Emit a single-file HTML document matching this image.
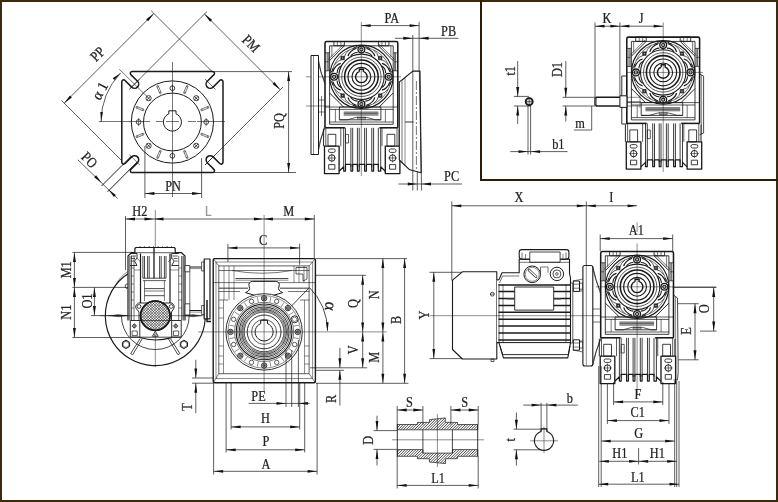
<!DOCTYPE html>
<html><head><meta charset="utf-8"><title>Worm gearbox dimensions</title>
<style>
html,body{margin:0;padding:0;background:#fff;}
body{width:778px;height:502px;overflow:hidden;position:relative;font-family:"Liberation Serif",serif;}
#frame{position:absolute;left:0;top:0;width:774px;height:498px;border:2px solid #3c2a0d;background:#fff;}
#inset{position:absolute;left:480px;top:0;width:298px;height:181px;border-left:2px solid #2c1c05;border-bottom:2px solid #2c1c05;box-sizing:border-box;}
svg{position:absolute;left:0;top:0;}
</style></head><body>
<div id="frame"></div><div id="inset"></div>
<svg style="filter:grayscale(1)" width="778" height="502" viewBox="0 0 778 502" fill="none" stroke="#1a1a1a" stroke-linecap="butt" stroke-linejoin="round">
<path d="M212.60,71.40 A1.9,1.9 0 0 1 213.95,74.65 L207.30,81.30 A4.1,4.1 0 0 0 213.10,87.10 L219.75,80.45 A1.9,1.9 0 0 1 223.00,81.80 L223.00,162.20 A1.9,1.9 0 0 1 219.75,163.55 L213.10,156.90 A4.1,4.1 0 0 0 207.30,162.70 L213.95,169.35 A1.9,1.9 0 0 1 212.60,172.60 L132.20,172.60 A1.9,1.9 0 0 1 130.85,169.35 L137.50,162.70 A4.1,4.1 0 0 0 131.70,156.90 L125.05,163.55 A1.9,1.9 0 0 1 121.80,162.20 L121.80,81.80 A1.9,1.9 0 0 1 125.05,80.45 L131.70,87.10 A4.1,4.1 0 0 0 137.50,81.30 L130.85,74.65 A1.9,1.9 0 0 1 132.20,71.40 Z" stroke-width="1.50" fill="none" />
<line x1="205.0" y1="79.0" x2="215.4" y2="89.4" stroke-width="0.60"/>
<line x1="215.4" y1="154.6" x2="205.0" y2="165.0" stroke-width="0.60"/>
<line x1="139.8" y1="165.0" x2="129.4" y2="154.6" stroke-width="0.60"/>
<line x1="129.4" y1="89.4" x2="139.8" y2="79.0" stroke-width="0.60"/>
<circle cx="172.4" cy="122.0" r="41.1" stroke-width="1.00" fill="none"/>
<circle cx="172.4" cy="122.0" r="28.9" stroke-width="1.00" fill="none"/>
<path d="M168.8,113.8 L168.8,110.8 L176.0,110.8 L176.0,113.8 A9.0,9.0 0 1 1 168.8,113.8" stroke-width="1.00" fill="none" />
<circle cx="206.2" cy="122.0" r="2.4" stroke-width="0.80" fill="none"/>
<line x1="206.2" y1="118.0" x2="206.2" y2="126.0" stroke-width="0.60"/>
<circle cx="196.2" cy="145.8" r="2.6" stroke-width="0.80" fill="none"/>
<line x1="194.3" y1="143.9" x2="198.1" y2="147.7" stroke-width="0.80"/>
<line x1="194.3" y1="147.7" x2="198.1" y2="143.9" stroke-width="0.80"/>
<circle cx="172.4" cy="155.8" r="2.4" stroke-width="0.80" fill="none"/>
<line x1="172.4" y1="151.8" x2="172.4" y2="159.8" stroke-width="0.60"/>
<circle cx="148.6" cy="145.8" r="2.6" stroke-width="0.80" fill="none"/>
<line x1="146.7" y1="143.9" x2="150.5" y2="147.7" stroke-width="0.80"/>
<line x1="146.7" y1="147.7" x2="150.5" y2="143.9" stroke-width="0.80"/>
<circle cx="138.6" cy="122.0" r="2.4" stroke-width="0.80" fill="none"/>
<line x1="138.6" y1="118.0" x2="138.6" y2="126.0" stroke-width="0.60"/>
<circle cx="148.6" cy="98.2" r="2.6" stroke-width="0.80" fill="none"/>
<line x1="146.7" y1="96.3" x2="150.5" y2="100.1" stroke-width="0.80"/>
<line x1="146.7" y1="100.1" x2="150.5" y2="96.3" stroke-width="0.80"/>
<circle cx="172.4" cy="88.2" r="2.4" stroke-width="0.80" fill="none"/>
<line x1="172.4" y1="84.2" x2="172.4" y2="92.2" stroke-width="0.60"/>
<circle cx="196.2" cy="98.2" r="2.6" stroke-width="0.80" fill="none"/>
<line x1="194.3" y1="96.3" x2="198.1" y2="100.1" stroke-width="0.80"/>
<line x1="194.3" y1="100.1" x2="198.1" y2="96.3" stroke-width="0.80"/>
<line x1="201.8" y1="133.3" x2="208.6" y2="136.1" stroke-width="0.60"/>
<line x1="201.2" y1="134.8" x2="207.9" y2="137.6" stroke-width="0.60"/>
<circle cx="208.2" cy="136.8" r="0.8" stroke-width="0.50" fill="none"/>
<circle cx="201.5" cy="134.1" r="0.8" stroke-width="0.50" fill="none"/>
<line x1="185.2" y1="150.8" x2="188.0" y2="157.5" stroke-width="0.60"/>
<line x1="183.7" y1="151.4" x2="186.5" y2="158.2" stroke-width="0.60"/>
<circle cx="187.2" cy="157.8" r="0.8" stroke-width="0.50" fill="none"/>
<circle cx="184.5" cy="151.1" r="0.8" stroke-width="0.50" fill="none"/>
<line x1="161.1" y1="151.4" x2="158.3" y2="158.2" stroke-width="0.60"/>
<line x1="159.6" y1="150.8" x2="156.8" y2="157.5" stroke-width="0.60"/>
<circle cx="157.6" cy="157.8" r="0.8" stroke-width="0.50" fill="none"/>
<circle cx="160.3" cy="151.1" r="0.8" stroke-width="0.50" fill="none"/>
<line x1="143.6" y1="134.8" x2="136.9" y2="137.6" stroke-width="0.60"/>
<line x1="143.0" y1="133.3" x2="136.2" y2="136.1" stroke-width="0.60"/>
<circle cx="136.6" cy="136.8" r="0.8" stroke-width="0.50" fill="none"/>
<circle cx="143.3" cy="134.1" r="0.8" stroke-width="0.50" fill="none"/>
<line x1="143.0" y1="110.7" x2="136.2" y2="107.9" stroke-width="0.60"/>
<line x1="143.6" y1="109.2" x2="136.9" y2="106.4" stroke-width="0.60"/>
<circle cx="136.6" cy="107.2" r="0.8" stroke-width="0.50" fill="none"/>
<circle cx="143.3" cy="109.9" r="0.8" stroke-width="0.50" fill="none"/>
<line x1="159.6" y1="93.2" x2="156.8" y2="86.5" stroke-width="0.60"/>
<line x1="161.1" y1="92.6" x2="158.3" y2="85.8" stroke-width="0.60"/>
<circle cx="157.6" cy="86.2" r="0.8" stroke-width="0.50" fill="none"/>
<circle cx="160.3" cy="92.9" r="0.8" stroke-width="0.50" fill="none"/>
<line x1="183.7" y1="92.6" x2="186.5" y2="85.8" stroke-width="0.60"/>
<line x1="185.2" y1="93.2" x2="188.0" y2="86.5" stroke-width="0.60"/>
<circle cx="187.2" cy="86.2" r="0.8" stroke-width="0.50" fill="none"/>
<circle cx="184.5" cy="92.9" r="0.8" stroke-width="0.50" fill="none"/>
<line x1="201.2" y1="109.2" x2="207.9" y2="106.4" stroke-width="0.60"/>
<line x1="201.8" y1="110.7" x2="208.6" y2="107.9" stroke-width="0.60"/>
<circle cx="208.2" cy="107.2" r="0.8" stroke-width="0.50" fill="none"/>
<circle cx="201.5" cy="109.9" r="0.8" stroke-width="0.50" fill="none"/>
<line x1="98.8" y1="121.5" x2="150.0" y2="121.5" stroke-width="0.60"/>
<line x1="156.0" y1="121.5" x2="163.0" y2="121.5" stroke-width="0.60"/>
<line x1="166.0" y1="121.5" x2="179.0" y2="121.5" stroke-width="0.60"/>
<line x1="188.0" y1="121.5" x2="196.0" y2="121.5" stroke-width="0.60"/>
<line x1="197.0" y1="121.5" x2="225.0" y2="121.5" stroke-width="0.60"/>
<line x1="172.5" y1="62.0" x2="172.5" y2="197.0" stroke-width="0.60"/>
<line x1="119.2" y1="69.1" x2="147.0" y2="96.5" stroke-width="0.60"/>
<path d="M101.1,122.0 A71.3,71.3 0 0 1 120.7,72.9" stroke-width="0.70" fill="none" />
<polygon points="101.1,121.5 100.3,111.9 102.9,112.1" fill="#111" stroke="none"/>
<polygon points="120.7,72.9 114.4,80.1 112.7,78.2" fill="#111" stroke="none"/>
<text transform="translate(99.7,90.7) rotate(-62) scale(0.95,1)" font-family="Liberation Serif" font-size="15" font-weight="normal" fill="#222" stroke="#222" stroke-width="0.25" text-anchor="middle" dominant-baseline="central">α 1</text>
<line x1="64.2" y1="103.2" x2="153.9" y2="13.5" stroke-width="0.70"/>
<polygon points="64.2,103.2 69.9,95.5 71.9,97.5" fill="#111" stroke="none"/>
<polygon points="153.9,13.5 148.2,21.2 146.2,19.2" fill="#111" stroke="none"/>
<line x1="61.5" y1="100.5" x2="121.8" y2="160.8" stroke-width="0.70"/>
<line x1="151.2" y1="10.8" x2="212.0" y2="71.5" stroke-width="0.70"/>
<text transform="translate(97.5,54.0) rotate(-45) scale(0.85,1)" font-family="Liberation Serif" font-size="14.5" font-weight="normal" fill="#222" stroke="#222" stroke-width="0.25" text-anchor="middle" dominant-baseline="central">PP</text>
<line x1="204.4" y1="14.0" x2="280.2" y2="89.8" stroke-width="0.70"/>
<polygon points="204.4,14.0 212.1,19.7 210.1,21.7" fill="#111" stroke="none"/>
<polygon points="280.2,89.8 272.5,84.1 274.5,82.1" fill="#111" stroke="none"/>
<line x1="207.0" y1="11.5" x2="129.4" y2="89.1" stroke-width="0.70"/>
<line x1="283.0" y1="87.0" x2="205.0" y2="165.0" stroke-width="0.70"/>
<text transform="translate(251.0,43.5) rotate(45) scale(0.85,1)" font-family="Liberation Serif" font-size="14.5" font-weight="normal" fill="#222" stroke="#222" stroke-width="0.25" text-anchor="middle" dominant-baseline="central">PM</text>
<line x1="212.0" y1="71.6" x2="292.0" y2="71.6" stroke-width="0.70"/>
<line x1="212.0" y1="172.5" x2="296.0" y2="172.5" stroke-width="0.70"/>
<line x1="288.6" y1="71.6" x2="288.6" y2="172.4" stroke-width="0.70"/>
<polygon points="288.6,71.6 290.1,81.1 287.2,81.1" fill="#111" stroke="none"/>
<polygon points="288.6,172.4 287.2,162.9 290.1,162.9" fill="#111" stroke="none"/>
<text transform="translate(279.0,121.0) rotate(-90) scale(0.85,1)" font-family="Liberation Serif" font-size="14.5" font-weight="normal" fill="#222" stroke="#222" stroke-width="0.25" text-anchor="middle" dominant-baseline="central">PQ</text>
<line x1="144.9" y1="146.0" x2="144.9" y2="198.0" stroke-width="0.70"/>
<line x1="201.6" y1="158.0" x2="201.6" y2="198.0" stroke-width="0.70"/>
<line x1="144.9" y1="193.5" x2="201.6" y2="193.5" stroke-width="0.70"/>
<polygon points="144.9,193.5 154.4,192.1 154.4,194.9" fill="#111" stroke="none"/>
<polygon points="201.6,193.5 192.1,194.9 192.1,192.1" fill="#111" stroke="none"/>
<text transform="translate(173.0,186.3) scale(0.85,1)" font-family="Liberation Serif" font-size="14.5" font-weight="normal" fill="#222" stroke="#222" stroke-width="0.25" text-anchor="middle" dominant-baseline="central">PN</text>
<line x1="77.9" y1="159.8" x2="117.7" y2="198.6" stroke-width="0.70"/>
<polygon points="101.8,183.0 94.1,177.3 96.1,175.3" fill="#111" stroke="none"/>
<polygon points="108.2,189.2 115.9,194.9 113.9,196.9" fill="#111" stroke="none"/>
<line x1="131.5" y1="156.0" x2="101.5" y2="186.0" stroke-width="1.00"/>
<line x1="137.4" y1="161.8" x2="107.6" y2="191.8" stroke-width="1.00"/>
<text transform="translate(89.5,160.0) rotate(45) scale(0.85,1)" font-family="Liberation Serif" font-size="14.5" font-weight="normal" fill="#222" stroke="#222" stroke-width="0.25" text-anchor="middle" dominant-baseline="central">PO</text>
<g transform="translate(361.4,76.8)">
<path d="M-36.4,51 L-36.4,-33.6 Q-36.4,-35.3 -34.7,-35.3 L34.7,-35.3 Q36.4,-35.3 36.4,-33.6 L36.4,51" stroke-width="1.56" fill="none" />
<line x1="-36.4" y1="51.0" x2="-16.5" y2="51.0" stroke-width="1.56"/>
<line x1="18.0" y1="51.0" x2="36.4" y2="51.0" stroke-width="1.56"/>
<path d="M-31.8,47.5 L-31.8,-31 L31.8,-31 L31.8,47.5" stroke-width="0.84" fill="none" />
<rect x="-27.5" y="-35.3" width="10.5" height="4.3" rx="0" stroke-width="0.84" fill="none"/>
<line x1="-20.5" y1="-35.3" x2="-20.5" y2="-31.0" stroke-width="0.60"/>
<line x1="-24.0" y1="-35.3" x2="-24.0" y2="-31.0" stroke-width="0.60"/>
<line x1="-34.2" y1="-24.0" x2="-34.2" y2="-6.0" stroke-width="0.72"/>
<line x1="-33.0" y1="-24.0" x2="-33.0" y2="-6.0" stroke-width="0.60"/>
<line x1="-36.4" y1="-24.0" x2="-31.8" y2="-24.0" stroke-width="0.72"/>
<line x1="-36.4" y1="-6.0" x2="-31.8" y2="-6.0" stroke-width="0.72"/>
<line x1="-36.4" y1="-15.0" x2="-33.0" y2="-15.0" stroke-width="0.60"/>
<line x1="-29.5" y1="-31.0" x2="-29.5" y2="-20.0" stroke-width="0.60"/>
<rect x="17.0" y="-35.3" width="10.5" height="4.3" rx="0" stroke-width="0.84" fill="none"/>
<line x1="20.5" y1="-35.3" x2="20.5" y2="-31.0" stroke-width="0.60"/>
<line x1="24.0" y1="-35.3" x2="24.0" y2="-31.0" stroke-width="0.60"/>
<line x1="34.2" y1="-24.0" x2="34.2" y2="-6.0" stroke-width="0.72"/>
<line x1="33.0" y1="-24.0" x2="33.0" y2="-6.0" stroke-width="0.60"/>
<line x1="36.4" y1="-24.0" x2="31.8" y2="-24.0" stroke-width="0.72"/>
<line x1="36.4" y1="-6.0" x2="31.8" y2="-6.0" stroke-width="0.72"/>
<line x1="36.4" y1="-15.0" x2="33.0" y2="-15.0" stroke-width="0.60"/>
<line x1="29.5" y1="-31.0" x2="29.5" y2="-20.0" stroke-width="0.60"/>
<line x1="-31.8" y1="-16.2" x2="-17.0" y2="-31.0" stroke-width="0.96"/>
<line x1="-33.2" y1="-17.2" x2="-18.0" y2="-32.4" stroke-width="0.60"/>
<line x1="-31.8" y1="16.2" x2="-17.8" y2="30.2" stroke-width="0.96"/>
<line x1="31.8" y1="-16.2" x2="17.0" y2="-31.0" stroke-width="0.96"/>
<line x1="33.2" y1="-17.2" x2="18.0" y2="-32.4" stroke-width="0.60"/>
<line x1="31.8" y1="16.2" x2="17.8" y2="30.2" stroke-width="0.96"/>
<circle cx="0.0" cy="0.0" r="31.7" stroke-width="1.20" fill="none"/>
<circle cx="0.0" cy="0.0" r="29.6" stroke-width="0.60" fill="none"/>
<circle cx="0.0" cy="0.0" r="22.7" stroke-width="1.08" fill="none"/>
<circle cx="0.0" cy="0.0" r="19.7" stroke-width="0.72" fill="none"/>
<circle cx="0.0" cy="0.0" r="16.8" stroke-width="1.56" fill="none"/>
<circle cx="0.0" cy="0.0" r="13.4" stroke-width="1.20" fill="none"/>
<circle cx="0.0" cy="0.0" r="9.4" stroke-width="1.08" fill="none"/>
<path d="M-2.0,-5.4 L-2.0,-7.6 L2.0,-7.6 L2.0,-5.4 A5.8,5.8 0 1 1 -2.0,-5.4" stroke-width="1.44" fill="none" />
<circle cx="27.3" cy="0.0" r="3.4" stroke-width="1.32" fill="#fff"/>
<circle cx="27.3" cy="0.0" r="1.6" stroke-width="1.08" fill="none"/>
<rect x="17.1" y="17.1" width="3.4" height="3.4" rx="0" stroke-width="0.72" fill="#333"/>
<rect x="18.2" y="18.2" width="1.2" height="1.2" rx="0" stroke-width="0.00" fill="#aaa"/>
<circle cx="0.0" cy="27.3" r="3.4" stroke-width="1.32" fill="#fff"/>
<circle cx="0.0" cy="27.3" r="1.6" stroke-width="1.08" fill="none"/>
<rect x="-20.5" y="17.1" width="3.4" height="3.4" rx="0" stroke-width="0.72" fill="#333"/>
<rect x="-19.4" y="18.2" width="1.2" height="1.2" rx="0" stroke-width="0.00" fill="#aaa"/>
<circle cx="-27.3" cy="0.0" r="3.4" stroke-width="1.32" fill="#fff"/>
<circle cx="-27.3" cy="0.0" r="1.6" stroke-width="1.08" fill="none"/>
<rect x="-20.5" y="-20.5" width="3.4" height="3.4" rx="0" stroke-width="0.72" fill="#333"/>
<rect x="-19.4" y="-19.4" width="1.2" height="1.2" rx="0" stroke-width="0.00" fill="#aaa"/>
<circle cx="-0.0" cy="-27.3" r="3.4" stroke-width="1.32" fill="#fff"/>
<circle cx="-0.0" cy="-27.3" r="1.6" stroke-width="1.08" fill="none"/>
<rect x="17.1" y="-20.5" width="3.4" height="3.4" rx="0" stroke-width="0.72" fill="#333"/>
<rect x="18.2" y="-19.4" width="1.2" height="1.2" rx="0" stroke-width="0.00" fill="#aaa"/>
<path d="M30.8,-3.8 Q29.4,-5.7 28.3,-8.7" stroke-width="0.96" fill="none" />
<path d="M28.6,-5.0 Q25.9,-12.1 20.6,-13.4" stroke-width="1.20" fill="none" />
<path d="M24.3,-3.8 Q24.1,-8.8 20.3,-10.8" stroke-width="1.08" fill="none" />
<path d="M26.9,-12.0 Q23.1,-16.8 19.6,-17.1" stroke-width="0.72" fill="none" />
<path d="M30.8,3.8 Q29.4,5.7 28.3,8.7" stroke-width="0.96" fill="none" />
<path d="M28.6,5.0 Q25.9,12.1 20.6,13.4" stroke-width="1.20" fill="none" />
<path d="M24.3,3.8 Q24.1,8.8 20.3,10.8" stroke-width="1.08" fill="none" />
<path d="M26.9,12.0 Q23.1,16.8 19.6,17.1" stroke-width="0.72" fill="none" />
<path d="M3.8,30.8 Q5.7,29.4 8.7,28.3" stroke-width="0.96" fill="none" />
<path d="M5.0,28.6 Q12.1,25.9 13.4,20.6" stroke-width="1.20" fill="none" />
<path d="M3.8,24.3 Q8.8,24.1 10.8,20.3" stroke-width="1.08" fill="none" />
<path d="M12.0,26.9 Q16.8,23.1 17.1,19.6" stroke-width="0.72" fill="none" />
<path d="M-3.8,30.8 Q-5.7,29.4 -8.7,28.3" stroke-width="0.96" fill="none" />
<path d="M-5.0,28.6 Q-12.1,25.9 -13.4,20.6" stroke-width="1.20" fill="none" />
<path d="M-3.8,24.3 Q-8.8,24.1 -10.8,20.3" stroke-width="1.08" fill="none" />
<path d="M-12.0,26.9 Q-16.8,23.1 -17.1,19.6" stroke-width="0.72" fill="none" />
<path d="M-30.8,3.8 Q-29.4,5.7 -28.3,8.7" stroke-width="0.96" fill="none" />
<path d="M-28.6,5.0 Q-25.9,12.1 -20.6,13.4" stroke-width="1.20" fill="none" />
<path d="M-24.3,3.8 Q-24.1,8.8 -20.3,10.8" stroke-width="1.08" fill="none" />
<path d="M-26.9,12.0 Q-23.1,16.8 -19.6,17.1" stroke-width="0.72" fill="none" />
<path d="M-30.8,-3.8 Q-29.4,-5.7 -28.3,-8.7" stroke-width="0.96" fill="none" />
<path d="M-28.6,-5.0 Q-25.9,-12.1 -20.6,-13.4" stroke-width="1.20" fill="none" />
<path d="M-24.3,-3.8 Q-24.1,-8.8 -20.3,-10.8" stroke-width="1.08" fill="none" />
<path d="M-26.9,-12.0 Q-23.1,-16.8 -19.6,-17.1" stroke-width="0.72" fill="none" />
<path d="M-3.8,-30.8 Q-5.7,-29.4 -8.7,-28.3" stroke-width="0.96" fill="none" />
<path d="M-5.0,-28.6 Q-12.1,-25.9 -13.4,-20.6" stroke-width="1.20" fill="none" />
<path d="M-3.8,-24.3 Q-8.8,-24.1 -10.8,-20.3" stroke-width="1.08" fill="none" />
<path d="M-12.0,-26.9 Q-16.8,-23.1 -17.1,-19.6" stroke-width="0.72" fill="none" />
<path d="M3.8,-30.8 Q5.7,-29.4 8.7,-28.3" stroke-width="0.96" fill="none" />
<path d="M5.0,-28.6 Q12.1,-25.9 13.4,-20.6" stroke-width="1.20" fill="none" />
<path d="M3.8,-24.3 Q8.8,-24.1 10.8,-20.3" stroke-width="1.08" fill="none" />
<path d="M12.0,-26.9 Q16.8,-23.1 17.1,-19.6" stroke-width="0.72" fill="none" />
<line x1="-36.4" y1="30.2" x2="36.4" y2="30.2" stroke-width="0.72"/>
<line x1="-31.8" y1="32.6" x2="31.8" y2="32.6" stroke-width="0.72"/>
<rect x="-22.0" y="30.2" width="41.5" height="12.8" rx="0" stroke-width="0.84" fill="none"/>
<line x1="-17.7" y1="36.8" x2="17.0" y2="36.8" stroke-width="2.04" stroke="#666"/>
<line x1="-17.7" y1="35.2" x2="17.0" y2="35.2" stroke-width="0.60"/>
<line x1="-17.7" y1="38.4" x2="17.0" y2="38.4" stroke-width="0.60"/>
<path d="M-22,43 L-14,43 L-5,40.5 L5,40.5 L14,43 L19.5,43" stroke-width="0.72" fill="none" />
<rect x="-4.0" y="40.5" width="8.0" height="1.6" rx="0" stroke-width="0.60" fill="none"/>
<line x1="-31.8" y1="45.2" x2="31.8" y2="45.2" stroke-width="0.72"/>
<line x1="-31.8" y1="47.5" x2="31.8" y2="47.5" stroke-width="0.84"/>
<line x1="-26.0" y1="32.6" x2="-26.0" y2="45.2" stroke-width="0.60"/>
<line x1="24.0" y1="32.6" x2="24.0" y2="45.2" stroke-width="0.60"/>
<line x1="-37.8" y1="52.0" x2="-37.8" y2="69.4" stroke-width="0.96"/>
<line x1="-35.6" y1="51.0" x2="-35.6" y2="69.4" stroke-width="0.72"/>
<rect x="-33.4" y="57.5" width="7.8" height="11.9" rx="0" stroke-width="0.84" fill="none"/>
<rect x="-36.9" y="69.4" width="14.6" height="27.4" rx="0" stroke-width="1.32" fill="none"/>
<rect x="-33.0" y="72.2" width="6.8" height="3.4" rx="1.5" stroke-width="0.84" fill="none"/>
<circle cx="-29.6" cy="81.2" r="3.2" stroke-width="0.96" fill="none"/>
<line x1="-34.0" y1="81.2" x2="-25.2" y2="81.2" stroke-width="0.60"/>
<line x1="-29.6" y1="76.8" x2="-29.6" y2="85.6" stroke-width="0.60"/>
<rect x="-32.7" y="87.8" width="6.2" height="4.6" rx="0" stroke-width="0.84" fill="none"/>
<line x1="-20.6" y1="51.0" x2="-20.6" y2="69.4" stroke-width="0.72"/>
<line x1="37.8" y1="52.0" x2="37.8" y2="69.4" stroke-width="0.96"/>
<line x1="35.6" y1="51.0" x2="35.6" y2="69.4" stroke-width="0.72"/>
<rect x="25.6" y="57.5" width="7.8" height="11.9" rx="0" stroke-width="0.84" fill="none"/>
<rect x="23.9" y="69.4" width="14.6" height="27.4" rx="0" stroke-width="1.32" fill="none"/>
<rect x="27.8" y="72.2" width="6.8" height="3.4" rx="1.5" stroke-width="0.84" fill="none"/>
<circle cx="31.2" cy="81.2" r="3.2" stroke-width="0.96" fill="none"/>
<line x1="26.8" y1="81.2" x2="35.6" y2="81.2" stroke-width="0.60"/>
<line x1="31.2" y1="76.8" x2="31.2" y2="85.6" stroke-width="0.60"/>
<rect x="28.1" y="87.8" width="6.2" height="4.6" rx="0" stroke-width="0.84" fill="none"/>
<line x1="20.6" y1="51.0" x2="20.6" y2="69.4" stroke-width="0.72"/>
<line x1="-17.7" y1="51.0" x2="-17.7" y2="90.0" stroke-width="0.84"/>
<line x1="-15.9" y1="51.0" x2="-15.9" y2="90.0" stroke-width="0.84"/>
<line x1="-10.5" y1="51.0" x2="-10.5" y2="90.0" stroke-width="0.84"/>
<line x1="-8.7" y1="51.0" x2="-8.7" y2="90.0" stroke-width="0.84"/>
<line x1="-4.0" y1="51.0" x2="-4.0" y2="90.0" stroke-width="0.84"/>
<line x1="-2.2" y1="51.0" x2="-2.2" y2="90.0" stroke-width="0.84"/>
<line x1="3.2" y1="51.0" x2="3.2" y2="90.0" stroke-width="0.84"/>
<line x1="5.0" y1="51.0" x2="5.0" y2="90.0" stroke-width="0.84"/>
<line x1="10.4" y1="51.0" x2="10.4" y2="90.0" stroke-width="0.84"/>
<line x1="12.2" y1="51.0" x2="12.2" y2="90.0" stroke-width="0.84"/>
<line x1="16.9" y1="51.0" x2="16.9" y2="90.0" stroke-width="0.84"/>
<line x1="19.3" y1="51.0" x2="19.3" y2="90.0" stroke-width="0.84"/>
<rect x="-15.9" y="57.6" width="3.0" height="8.6" rx="0" stroke-width="0.72" fill="none"/>
<path d="M-22.3,94.5 L-17.7,90.0 L-17.7,94.3 L-15.9,94.3 L-15.9,87.5 L-10.5,87.5 L-10.5,94.3 L-8.7,94.3 L-8.7,87.5 L-4,87.5 L-4,94.3 L-2.2,94.3 L-2.2,87.5 L3.2,87.5 L3.2,94.3 L5,94.3 L5,87.5 L10.4,87.5 L10.4,94.3 L12.2,94.3 L12.2,87.5 L16.9,87.5 L16.9,94.3 L19.3,94.3 L19.3,90.0 L23.9,94.5" stroke-width="1.20" fill="none" />
</g>
<line x1="361.3" y1="22.0" x2="361.3" y2="176.0" stroke-width="0.50"/>
<line x1="306.0" y1="76.8" x2="401.0" y2="76.8" stroke-width="0.50"/>
<rect x="311.0" y="55.5" width="7.5" height="99.0" rx="0" stroke-width="1.00" fill="#fff"/>
<line x1="313.5" y1="55.5" x2="313.5" y2="154.5" stroke-width="0.50"/>
<path d="M318.5,60 Q320,72 324.7,82" stroke-width="0.80" fill="none" />
<path d="M318.5,150 Q320,140 324.7,128" stroke-width="0.80" fill="none" />
<path d="M318.5,64 L324.7,84" stroke-width="0.50" fill="none" />
<path d="M318.5,146 L324.7,126" stroke-width="0.50" fill="none" />
<line x1="306.0" y1="106.0" x2="330.0" y2="106.0" stroke-width="0.50"/>
<line x1="318.5" y1="100.0" x2="324.7" y2="100.0" stroke-width="0.60"/>
<line x1="318.5" y1="112.0" x2="324.7" y2="112.0" stroke-width="0.60"/>
<line x1="321.5" y1="96.0" x2="321.5" y2="116.0" stroke-width="0.60"/>
<path d="M399.3,160 L399.3,81.9 L402,80 L412.8,71.1 L420,71.1 L421.2,172.8 L409.7,169.8 L399.3,160" stroke-width="1.10" fill="#fff" />
<line x1="402.0" y1="81.0" x2="402.0" y2="162.5" stroke-width="0.60"/>
<line x1="405.0" y1="78.0" x2="405.0" y2="165.5" stroke-width="0.50"/>
<line x1="416.4" y1="81.0" x2="416.4" y2="172.0" stroke-width="0.60" stroke-dasharray="9 2 2 2"/>
<line x1="405.0" y1="122.0" x2="413.5" y2="122.0" stroke-width="1.20" stroke="#555"/>
<line x1="412.8" y1="35.0" x2="412.8" y2="190.5" stroke-width="0.70"/>
<line x1="419.1" y1="21.8" x2="419.1" y2="71.0" stroke-width="0.70"/>
<line x1="419.3" y1="71.0" x2="421.6" y2="190.5" stroke-width="0.70"/>
<line x1="417.3" y1="172.0" x2="417.3" y2="190.5" stroke-width="0.70"/>
<line x1="361.1" y1="25.6" x2="419.1" y2="25.6" stroke-width="0.70"/>
<polygon points="361.1,25.6 370.6,24.2 370.6,27.1" fill="#111" stroke="none"/>
<polygon points="419.1,25.6 409.6,27.1 409.6,24.2" fill="#111" stroke="none"/>
<text transform="translate(391.8,17.8) scale(0.85,1)" font-family="Liberation Serif" font-size="14.5" font-weight="normal" fill="#222" stroke="#222" stroke-width="0.25" text-anchor="middle" dominant-baseline="central">PA</text>
<line x1="394.9" y1="38.3" x2="458.5" y2="38.3" stroke-width="0.70"/>
<polygon points="412.8,38.3 403.3,39.8 403.3,36.8" fill="#111" stroke="none"/>
<polygon points="419.1,38.3 428.6,36.8 428.6,39.8" fill="#111" stroke="none"/>
<text transform="translate(448.6,30.8) scale(0.85,1)" font-family="Liberation Serif" font-size="14.5" font-weight="normal" fill="#222" stroke="#222" stroke-width="0.25" text-anchor="middle" dominant-baseline="central">PB</text>
<line x1="398.5" y1="184.0" x2="462.0" y2="184.0" stroke-width="0.70"/>
<polygon points="417.3,184.0 407.8,185.4 407.8,182.6" fill="#111" stroke="none"/>
<polygon points="421.5,184.0 431.0,182.6 431.0,185.4" fill="#111" stroke="none"/>
<text transform="translate(451.6,176.3) scale(0.85,1)" font-family="Liberation Serif" font-size="14.5" font-weight="normal" fill="#222" stroke="#222" stroke-width="0.25" text-anchor="middle" dominant-baseline="central">PC</text>
<g transform="translate(663.2,72.4)">
<path d="M-36.4,51 L-36.4,-33.6 Q-36.4,-35.3 -34.7,-35.3 L34.7,-35.3 Q36.4,-35.3 36.4,-33.6 L36.4,51" stroke-width="1.56" fill="none" />
<line x1="-36.4" y1="51.0" x2="-16.5" y2="51.0" stroke-width="1.56"/>
<line x1="18.0" y1="51.0" x2="36.4" y2="51.0" stroke-width="1.56"/>
<path d="M-31.8,47.5 L-31.8,-31 L31.8,-31 L31.8,47.5" stroke-width="0.84" fill="none" />
<rect x="-27.5" y="-35.3" width="10.5" height="4.3" rx="0" stroke-width="0.84" fill="none"/>
<line x1="-20.5" y1="-35.3" x2="-20.5" y2="-31.0" stroke-width="0.60"/>
<line x1="-24.0" y1="-35.3" x2="-24.0" y2="-31.0" stroke-width="0.60"/>
<line x1="-34.2" y1="-24.0" x2="-34.2" y2="-6.0" stroke-width="0.72"/>
<line x1="-33.0" y1="-24.0" x2="-33.0" y2="-6.0" stroke-width="0.60"/>
<line x1="-36.4" y1="-24.0" x2="-31.8" y2="-24.0" stroke-width="0.72"/>
<line x1="-36.4" y1="-6.0" x2="-31.8" y2="-6.0" stroke-width="0.72"/>
<line x1="-36.4" y1="-15.0" x2="-33.0" y2="-15.0" stroke-width="0.60"/>
<line x1="-29.5" y1="-31.0" x2="-29.5" y2="-20.0" stroke-width="0.60"/>
<rect x="17.0" y="-35.3" width="10.5" height="4.3" rx="0" stroke-width="0.84" fill="none"/>
<line x1="20.5" y1="-35.3" x2="20.5" y2="-31.0" stroke-width="0.60"/>
<line x1="24.0" y1="-35.3" x2="24.0" y2="-31.0" stroke-width="0.60"/>
<line x1="34.2" y1="-24.0" x2="34.2" y2="-6.0" stroke-width="0.72"/>
<line x1="33.0" y1="-24.0" x2="33.0" y2="-6.0" stroke-width="0.60"/>
<line x1="36.4" y1="-24.0" x2="31.8" y2="-24.0" stroke-width="0.72"/>
<line x1="36.4" y1="-6.0" x2="31.8" y2="-6.0" stroke-width="0.72"/>
<line x1="36.4" y1="-15.0" x2="33.0" y2="-15.0" stroke-width="0.60"/>
<line x1="29.5" y1="-31.0" x2="29.5" y2="-20.0" stroke-width="0.60"/>
<line x1="-31.8" y1="-16.2" x2="-17.0" y2="-31.0" stroke-width="0.96"/>
<line x1="-33.2" y1="-17.2" x2="-18.0" y2="-32.4" stroke-width="0.60"/>
<line x1="-31.8" y1="16.2" x2="-17.8" y2="30.2" stroke-width="0.96"/>
<line x1="31.8" y1="-16.2" x2="17.0" y2="-31.0" stroke-width="0.96"/>
<line x1="33.2" y1="-17.2" x2="18.0" y2="-32.4" stroke-width="0.60"/>
<line x1="31.8" y1="16.2" x2="17.8" y2="30.2" stroke-width="0.96"/>
<circle cx="0.0" cy="0.0" r="31.7" stroke-width="1.20" fill="none"/>
<circle cx="0.0" cy="0.0" r="29.6" stroke-width="0.60" fill="none"/>
<circle cx="0.0" cy="0.0" r="22.7" stroke-width="1.08" fill="none"/>
<circle cx="0.0" cy="0.0" r="19.7" stroke-width="0.72" fill="none"/>
<circle cx="0.0" cy="0.0" r="16.8" stroke-width="1.56" fill="none"/>
<circle cx="0.0" cy="0.0" r="13.4" stroke-width="1.20" fill="none"/>
<circle cx="0.0" cy="0.0" r="9.4" stroke-width="1.08" fill="none"/>
<path d="M-2.0,-5.4 L-2.0,-7.6 L2.0,-7.6 L2.0,-5.4 A5.8,5.8 0 1 1 -2.0,-5.4" stroke-width="1.44" fill="none" />
<circle cx="27.3" cy="0.0" r="3.4" stroke-width="1.32" fill="#fff"/>
<circle cx="27.3" cy="0.0" r="1.6" stroke-width="1.08" fill="none"/>
<rect x="17.1" y="17.1" width="3.4" height="3.4" rx="0" stroke-width="0.72" fill="#333"/>
<rect x="18.2" y="18.2" width="1.2" height="1.2" rx="0" stroke-width="0.00" fill="#aaa"/>
<circle cx="0.0" cy="27.3" r="3.4" stroke-width="1.32" fill="#fff"/>
<circle cx="0.0" cy="27.3" r="1.6" stroke-width="1.08" fill="none"/>
<rect x="-20.5" y="17.1" width="3.4" height="3.4" rx="0" stroke-width="0.72" fill="#333"/>
<rect x="-19.4" y="18.2" width="1.2" height="1.2" rx="0" stroke-width="0.00" fill="#aaa"/>
<circle cx="-27.3" cy="0.0" r="3.4" stroke-width="1.32" fill="#fff"/>
<circle cx="-27.3" cy="0.0" r="1.6" stroke-width="1.08" fill="none"/>
<rect x="-20.5" y="-20.5" width="3.4" height="3.4" rx="0" stroke-width="0.72" fill="#333"/>
<rect x="-19.4" y="-19.4" width="1.2" height="1.2" rx="0" stroke-width="0.00" fill="#aaa"/>
<circle cx="-0.0" cy="-27.3" r="3.4" stroke-width="1.32" fill="#fff"/>
<circle cx="-0.0" cy="-27.3" r="1.6" stroke-width="1.08" fill="none"/>
<rect x="17.1" y="-20.5" width="3.4" height="3.4" rx="0" stroke-width="0.72" fill="#333"/>
<rect x="18.2" y="-19.4" width="1.2" height="1.2" rx="0" stroke-width="0.00" fill="#aaa"/>
<path d="M30.8,-3.8 Q29.4,-5.7 28.3,-8.7" stroke-width="0.96" fill="none" />
<path d="M28.6,-5.0 Q25.9,-12.1 20.6,-13.4" stroke-width="1.20" fill="none" />
<path d="M24.3,-3.8 Q24.1,-8.8 20.3,-10.8" stroke-width="1.08" fill="none" />
<path d="M26.9,-12.0 Q23.1,-16.8 19.6,-17.1" stroke-width="0.72" fill="none" />
<path d="M30.8,3.8 Q29.4,5.7 28.3,8.7" stroke-width="0.96" fill="none" />
<path d="M28.6,5.0 Q25.9,12.1 20.6,13.4" stroke-width="1.20" fill="none" />
<path d="M24.3,3.8 Q24.1,8.8 20.3,10.8" stroke-width="1.08" fill="none" />
<path d="M26.9,12.0 Q23.1,16.8 19.6,17.1" stroke-width="0.72" fill="none" />
<path d="M3.8,30.8 Q5.7,29.4 8.7,28.3" stroke-width="0.96" fill="none" />
<path d="M5.0,28.6 Q12.1,25.9 13.4,20.6" stroke-width="1.20" fill="none" />
<path d="M3.8,24.3 Q8.8,24.1 10.8,20.3" stroke-width="1.08" fill="none" />
<path d="M12.0,26.9 Q16.8,23.1 17.1,19.6" stroke-width="0.72" fill="none" />
<path d="M-3.8,30.8 Q-5.7,29.4 -8.7,28.3" stroke-width="0.96" fill="none" />
<path d="M-5.0,28.6 Q-12.1,25.9 -13.4,20.6" stroke-width="1.20" fill="none" />
<path d="M-3.8,24.3 Q-8.8,24.1 -10.8,20.3" stroke-width="1.08" fill="none" />
<path d="M-12.0,26.9 Q-16.8,23.1 -17.1,19.6" stroke-width="0.72" fill="none" />
<path d="M-30.8,3.8 Q-29.4,5.7 -28.3,8.7" stroke-width="0.96" fill="none" />
<path d="M-28.6,5.0 Q-25.9,12.1 -20.6,13.4" stroke-width="1.20" fill="none" />
<path d="M-24.3,3.8 Q-24.1,8.8 -20.3,10.8" stroke-width="1.08" fill="none" />
<path d="M-26.9,12.0 Q-23.1,16.8 -19.6,17.1" stroke-width="0.72" fill="none" />
<path d="M-30.8,-3.8 Q-29.4,-5.7 -28.3,-8.7" stroke-width="0.96" fill="none" />
<path d="M-28.6,-5.0 Q-25.9,-12.1 -20.6,-13.4" stroke-width="1.20" fill="none" />
<path d="M-24.3,-3.8 Q-24.1,-8.8 -20.3,-10.8" stroke-width="1.08" fill="none" />
<path d="M-26.9,-12.0 Q-23.1,-16.8 -19.6,-17.1" stroke-width="0.72" fill="none" />
<path d="M-3.8,-30.8 Q-5.7,-29.4 -8.7,-28.3" stroke-width="0.96" fill="none" />
<path d="M-5.0,-28.6 Q-12.1,-25.9 -13.4,-20.6" stroke-width="1.20" fill="none" />
<path d="M-3.8,-24.3 Q-8.8,-24.1 -10.8,-20.3" stroke-width="1.08" fill="none" />
<path d="M-12.0,-26.9 Q-16.8,-23.1 -17.1,-19.6" stroke-width="0.72" fill="none" />
<path d="M3.8,-30.8 Q5.7,-29.4 8.7,-28.3" stroke-width="0.96" fill="none" />
<path d="M5.0,-28.6 Q12.1,-25.9 13.4,-20.6" stroke-width="1.20" fill="none" />
<path d="M3.8,-24.3 Q8.8,-24.1 10.8,-20.3" stroke-width="1.08" fill="none" />
<path d="M12.0,-26.9 Q16.8,-23.1 17.1,-19.6" stroke-width="0.72" fill="none" />
<line x1="-36.4" y1="30.2" x2="36.4" y2="30.2" stroke-width="0.72"/>
<line x1="-31.8" y1="32.6" x2="31.8" y2="32.6" stroke-width="0.72"/>
<rect x="-22.0" y="30.2" width="41.5" height="12.8" rx="0" stroke-width="0.84" fill="none"/>
<line x1="-17.7" y1="36.8" x2="17.0" y2="36.8" stroke-width="2.04" stroke="#666"/>
<line x1="-17.7" y1="35.2" x2="17.0" y2="35.2" stroke-width="0.60"/>
<line x1="-17.7" y1="38.4" x2="17.0" y2="38.4" stroke-width="0.60"/>
<path d="M-22,43 L-14,43 L-5,40.5 L5,40.5 L14,43 L19.5,43" stroke-width="0.72" fill="none" />
<rect x="-4.0" y="40.5" width="8.0" height="1.6" rx="0" stroke-width="0.60" fill="none"/>
<line x1="-31.8" y1="45.2" x2="31.8" y2="45.2" stroke-width="0.72"/>
<line x1="-31.8" y1="47.5" x2="31.8" y2="47.5" stroke-width="0.84"/>
<line x1="-26.0" y1="32.6" x2="-26.0" y2="45.2" stroke-width="0.60"/>
<line x1="24.0" y1="32.6" x2="24.0" y2="45.2" stroke-width="0.60"/>
<line x1="-37.8" y1="52.0" x2="-37.8" y2="69.4" stroke-width="0.96"/>
<line x1="-35.6" y1="51.0" x2="-35.6" y2="69.4" stroke-width="0.72"/>
<rect x="-33.4" y="57.5" width="7.8" height="11.9" rx="0" stroke-width="0.84" fill="none"/>
<rect x="-36.9" y="69.4" width="14.6" height="27.4" rx="0" stroke-width="1.32" fill="none"/>
<rect x="-33.0" y="72.2" width="6.8" height="3.4" rx="1.5" stroke-width="0.84" fill="none"/>
<circle cx="-29.6" cy="81.2" r="3.2" stroke-width="0.96" fill="none"/>
<line x1="-34.0" y1="81.2" x2="-25.2" y2="81.2" stroke-width="0.60"/>
<line x1="-29.6" y1="76.8" x2="-29.6" y2="85.6" stroke-width="0.60"/>
<rect x="-32.7" y="87.8" width="6.2" height="4.6" rx="0" stroke-width="0.84" fill="none"/>
<line x1="-20.6" y1="51.0" x2="-20.6" y2="69.4" stroke-width="0.72"/>
<line x1="37.8" y1="52.0" x2="37.8" y2="69.4" stroke-width="0.96"/>
<line x1="35.6" y1="51.0" x2="35.6" y2="69.4" stroke-width="0.72"/>
<rect x="25.6" y="57.5" width="7.8" height="11.9" rx="0" stroke-width="0.84" fill="none"/>
<rect x="23.9" y="69.4" width="14.6" height="27.4" rx="0" stroke-width="1.32" fill="none"/>
<rect x="27.8" y="72.2" width="6.8" height="3.4" rx="1.5" stroke-width="0.84" fill="none"/>
<circle cx="31.2" cy="81.2" r="3.2" stroke-width="0.96" fill="none"/>
<line x1="26.8" y1="81.2" x2="35.6" y2="81.2" stroke-width="0.60"/>
<line x1="31.2" y1="76.8" x2="31.2" y2="85.6" stroke-width="0.60"/>
<rect x="28.1" y="87.8" width="6.2" height="4.6" rx="0" stroke-width="0.84" fill="none"/>
<line x1="20.6" y1="51.0" x2="20.6" y2="69.4" stroke-width="0.72"/>
<line x1="-17.7" y1="51.0" x2="-17.7" y2="90.0" stroke-width="0.84"/>
<line x1="-15.9" y1="51.0" x2="-15.9" y2="90.0" stroke-width="0.84"/>
<line x1="-10.5" y1="51.0" x2="-10.5" y2="90.0" stroke-width="0.84"/>
<line x1="-8.7" y1="51.0" x2="-8.7" y2="90.0" stroke-width="0.84"/>
<line x1="-4.0" y1="51.0" x2="-4.0" y2="90.0" stroke-width="0.84"/>
<line x1="-2.2" y1="51.0" x2="-2.2" y2="90.0" stroke-width="0.84"/>
<line x1="3.2" y1="51.0" x2="3.2" y2="90.0" stroke-width="0.84"/>
<line x1="5.0" y1="51.0" x2="5.0" y2="90.0" stroke-width="0.84"/>
<line x1="10.4" y1="51.0" x2="10.4" y2="90.0" stroke-width="0.84"/>
<line x1="12.2" y1="51.0" x2="12.2" y2="90.0" stroke-width="0.84"/>
<line x1="16.9" y1="51.0" x2="16.9" y2="90.0" stroke-width="0.84"/>
<line x1="19.3" y1="51.0" x2="19.3" y2="90.0" stroke-width="0.84"/>
<rect x="-15.9" y="57.6" width="3.0" height="8.6" rx="0" stroke-width="0.72" fill="none"/>
<path d="M-22.3,94.5 L-17.7,90.0 L-17.7,94.3 L-15.9,94.3 L-15.9,87.5 L-10.5,87.5 L-10.5,94.3 L-8.7,94.3 L-8.7,87.5 L-4,87.5 L-4,94.3 L-2.2,94.3 L-2.2,87.5 L3.2,87.5 L3.2,94.3 L5,94.3 L5,87.5 L10.4,87.5 L10.4,94.3 L12.2,94.3 L12.2,87.5 L16.9,87.5 L16.9,94.3 L19.3,94.3 L19.3,90.0 L23.9,94.5" stroke-width="1.20" fill="none" />
</g>
<line x1="663.2" y1="22.4" x2="663.2" y2="172.0" stroke-width="0.50"/>
<line x1="626.0" y1="72.4" x2="703.0" y2="72.4" stroke-width="0.50"/>
<rect x="621.8" y="76.0" width="4.8" height="48.0" rx="0" stroke-width="0.90" fill="none"/>
<path d="M619.9,97.3 L596.3,97.3 L595,98.6 L595,104.7 L596.3,106 L619.9,106" stroke-width="1.40" fill="none" />
<line x1="596.3" y1="97.3" x2="596.3" y2="106.0" stroke-width="0.60"/>
<rect x="619.9" y="95.8" width="7.0" height="11.6" rx="0" stroke-width="1.00" fill="#fff"/>
<line x1="626.9" y1="101.6" x2="641.0" y2="101.6" stroke-width="0.50"/>
<line x1="627.0" y1="97.3" x2="640.0" y2="97.3" stroke-width="0.50"/>
<line x1="627.0" y1="106.0" x2="640.0" y2="106.0" stroke-width="0.50"/>
<line x1="640.0" y1="95.0" x2="640.0" y2="108.0" stroke-width="0.50"/>
<path d="M699.6,74 L703.6,76 L703.6,133 L699.6,135" stroke-width="0.80" fill="none" />
<line x1="701.6" y1="75.0" x2="701.6" y2="134.0" stroke-width="0.50"/>
<line x1="595.0" y1="22.4" x2="595.0" y2="97.0" stroke-width="0.70"/>
<line x1="619.9" y1="22.4" x2="619.9" y2="96.0" stroke-width="0.70"/>
<line x1="595.0" y1="26.2" x2="619.9" y2="26.2" stroke-width="0.70"/>
<polygon points="595.0,26.2 604.5,24.8 604.5,27.6" fill="#111" stroke="none"/>
<polygon points="619.9,26.2 610.4,27.6 610.4,24.8" fill="#111" stroke="none"/>
<line x1="619.9" y1="26.2" x2="663.2" y2="26.2" stroke-width="0.70"/>
<polygon points="619.9,26.2 629.4,24.8 629.4,27.6" fill="#111" stroke="none"/>
<polygon points="663.2,26.2 653.7,27.6 653.7,24.8" fill="#111" stroke="none"/>
<text transform="translate(607.0,18.3) scale(0.85,1)" font-family="Liberation Serif" font-size="14.5" font-weight="normal" fill="#222" stroke="#222" stroke-width="0.25" text-anchor="middle" dominant-baseline="central">K</text>
<text transform="translate(641.2,18.3) scale(0.85,1)" font-family="Liberation Serif" font-size="14.5" font-weight="normal" fill="#222" stroke="#222" stroke-width="0.25" text-anchor="middle" dominant-baseline="central">J</text>
<line x1="562.6" y1="97.3" x2="595.0" y2="97.3" stroke-width="0.70"/>
<line x1="562.6" y1="106.0" x2="595.0" y2="106.0" stroke-width="0.70"/>
<line x1="565.8" y1="61.0" x2="565.8" y2="97.3" stroke-width="0.70"/>
<polygon points="565.8,97.3 564.3,87.8 567.2,87.8" fill="#111" stroke="none"/>
<line x1="565.8" y1="106.0" x2="565.8" y2="121.5" stroke-width="0.70"/>
<polygon points="565.8,106.0 567.2,115.5 564.3,115.5" fill="#111" stroke="none"/>
<text transform="translate(557.3,69.5) rotate(-90) scale(0.85,1)" font-family="Liberation Serif" font-size="14.5" font-weight="normal" fill="#222" stroke="#222" stroke-width="0.25" text-anchor="middle" dominant-baseline="central">D1</text>
<line x1="591.7" y1="106.0" x2="591.7" y2="130.0" stroke-width="0.70"/>
<line x1="573.8" y1="130.0" x2="591.7" y2="130.0" stroke-width="0.70"/>
<text transform="translate(580.0,123.0) scale(0.85,1)" font-family="Liberation Serif" font-size="14.5" font-weight="normal" fill="#222" stroke="#222" stroke-width="0.25" text-anchor="middle" dominant-baseline="central">m</text>
<line x1="513.9" y1="96.4" x2="529.0" y2="96.4" stroke-width="0.70"/>
<line x1="513.9" y1="106.0" x2="530.9" y2="106.0" stroke-width="0.70"/>
<line x1="517.7" y1="61.0" x2="517.7" y2="96.4" stroke-width="0.70"/>
<polygon points="517.7,96.4 516.2,86.9 519.2,86.9" fill="#111" stroke="none"/>
<line x1="517.7" y1="106.0" x2="517.7" y2="124.0" stroke-width="0.70"/>
<polygon points="517.7,106.0 519.2,115.5 516.2,115.5" fill="#111" stroke="none"/>
<text transform="translate(510.0,70.8) rotate(-90) scale(0.85,1)" font-family="Liberation Serif" font-size="14.5" font-weight="normal" fill="#222" stroke="#222" stroke-width="0.25" text-anchor="middle" dominant-baseline="central">t1</text>
<circle cx="529.2" cy="101.6" r="3.5" stroke-width="1.90" fill="#ddd"/>
<line x1="526.0" y1="101.6" x2="532.6" y2="101.6" stroke-width="0.60"/>
<line x1="529.2" y1="98.0" x2="529.2" y2="105.4" stroke-width="0.60"/>
<path d="M527.4,98.4 A3.7,3.7 0 0 1 531,98.4 Z" stroke-width="0.50" fill="#333" />
<line x1="528.0" y1="105.2" x2="528.0" y2="154.5" stroke-width="0.70"/>
<line x1="530.6" y1="105.2" x2="530.6" y2="154.5" stroke-width="0.70"/>
<line x1="510.2" y1="151.6" x2="567.5" y2="151.6" stroke-width="0.70"/>
<polygon points="528.0,151.6 518.5,153.0 518.5,150.2" fill="#111" stroke="none"/>
<polygon points="530.6,151.6 540.1,150.2 540.1,153.0" fill="#111" stroke="none"/>
<text transform="translate(558.3,143.8) scale(0.85,1)" font-family="Liberation Serif" font-size="14.5" font-weight="normal" fill="#222" stroke="#222" stroke-width="0.25" text-anchor="middle" dominant-baseline="central">b1</text>
<path d="M128,273.8 A50,50 0 1 0 205.2,319" stroke-width="1.15" fill="none" />
<path d="M121.4,315.7 A33.9,33.9 0 0 0 189.2,315.7" stroke-width="0.80" fill="none" />
<path d="M115,286.5 Q119,277 128,271.5" stroke-width="0.50" fill="none" />
<path d="M127.6,283.8 A2.4,2.4 0 0 0 127.6,288.6" stroke-width="0.80" fill="none" />
<path d="M128,320.5 L128,256 L131.5,252.7 L134.9,252.7 L134.9,248.5 L136,247.5 L174.2,247.5 L175.2,248.5 L175.2,252.7 L181.5,252.7 L185,256 L185,320.5" stroke-width="1.20" fill="#fff" />
<line x1="139.0" y1="247.5" x2="140.5" y2="246.5" stroke-width="0.80"/>
<line x1="143.5" y1="247.5" x2="145.0" y2="246.5" stroke-width="0.80"/>
<line x1="148.0" y1="247.5" x2="149.5" y2="246.5" stroke-width="0.80"/>
<line x1="152.5" y1="247.5" x2="154.0" y2="246.5" stroke-width="0.80"/>
<line x1="157.0" y1="247.5" x2="158.5" y2="246.5" stroke-width="0.80"/>
<line x1="161.5" y1="247.5" x2="163.0" y2="246.5" stroke-width="0.80"/>
<line x1="166.0" y1="247.5" x2="167.5" y2="246.5" stroke-width="0.80"/>
<line x1="170.5" y1="247.5" x2="172.0" y2="246.5" stroke-width="0.80"/>
<line x1="134.9" y1="252.7" x2="175.2" y2="252.7" stroke-width="0.70"/>
<line x1="129.6" y1="256.0" x2="129.6" y2="320.5" stroke-width="0.60"/>
<line x1="131.2" y1="256.0" x2="131.2" y2="320.5" stroke-width="1.00"/>
<line x1="134.0" y1="256.0" x2="134.0" y2="320.5" stroke-width="0.60"/>
<line x1="178.7" y1="256.0" x2="178.7" y2="320.5" stroke-width="0.60"/>
<line x1="181.9" y1="256.0" x2="181.9" y2="320.5" stroke-width="1.00"/>
<line x1="183.5" y1="256.0" x2="183.5" y2="320.5" stroke-width="0.60"/>
<line x1="140.5" y1="253.5" x2="140.5" y2="303.0" stroke-width="1.20"/>
<line x1="170.0" y1="253.5" x2="170.0" y2="303.0" stroke-width="1.20"/>
<line x1="142.9" y1="256.0" x2="142.9" y2="278.2" stroke-width="0.80"/>
<line x1="144.5" y1="256.0" x2="144.5" y2="278.2" stroke-width="0.80"/>
<line x1="147.6" y1="256.0" x2="147.6" y2="278.2" stroke-width="0.80"/>
<line x1="149.2" y1="256.0" x2="149.2" y2="278.2" stroke-width="0.80"/>
<line x1="159.6" y1="256.0" x2="159.6" y2="278.2" stroke-width="0.80"/>
<line x1="161.2" y1="256.0" x2="161.2" y2="278.2" stroke-width="0.80"/>
<line x1="164.4" y1="256.0" x2="164.4" y2="278.2" stroke-width="0.80"/>
<line x1="166.0" y1="256.0" x2="166.0" y2="278.2" stroke-width="0.80"/>
<line x1="154.0" y1="247.5" x2="154.0" y2="278.2" stroke-width="1.30"/>
<line x1="142.9" y1="278.2" x2="166.0" y2="278.2" stroke-width="0.80"/>
<line x1="142.9" y1="280.6" x2="166.0" y2="280.6" stroke-width="0.70"/>
<line x1="144.5" y1="280.6" x2="144.5" y2="301.0" stroke-width="0.60"/>
<line x1="164.4" y1="280.6" x2="164.4" y2="301.0" stroke-width="0.60"/>
<line x1="144.5" y1="288.6" x2="164.4" y2="288.6" stroke-width="0.80"/>
<line x1="144.5" y1="291.0" x2="164.4" y2="291.0" stroke-width="0.60"/>
<line x1="144.5" y1="295.7" x2="164.4" y2="295.7" stroke-width="0.80"/>
<path d="M130,253.5 L137,253.5 L137,258 L134.5,261 L137,265.5 L130,265.5" stroke-width="0.90" fill="none" />
<line x1="131.0" y1="256.0" x2="136.0" y2="256.0" stroke-width="0.70"/>
<line x1="131.0" y1="258.5" x2="135.0" y2="258.5" stroke-width="0.70"/>
<line x1="131.0" y1="261.0" x2="134.0" y2="261.0" stroke-width="0.70"/>
<line x1="137.0" y1="258.0" x2="140.5" y2="262.0" stroke-width="0.60"/>
<path d="M178.7,253.5 L171.7,253.5 L171.7,258 L174.2,261 L171.7,265.5 L178.7,265.5" stroke-width="0.90" fill="none" />
<line x1="177.7" y1="256.0" x2="172.7" y2="256.0" stroke-width="0.70"/>
<line x1="177.7" y1="258.5" x2="173.7" y2="258.5" stroke-width="0.70"/>
<line x1="177.7" y1="261.0" x2="174.7" y2="261.0" stroke-width="0.70"/>
<line x1="171.7" y1="258.0" x2="168.2" y2="262.0" stroke-width="0.60"/>
<line x1="131.2" y1="268.0" x2="134.0" y2="268.0" stroke-width="0.50"/>
<line x1="178.7" y1="268.0" x2="181.9" y2="268.0" stroke-width="0.50"/>
<line x1="131.2" y1="276.0" x2="134.0" y2="276.0" stroke-width="0.50"/>
<line x1="178.7" y1="276.0" x2="181.9" y2="276.0" stroke-width="0.50"/>
<line x1="131.2" y1="284.0" x2="134.0" y2="284.0" stroke-width="0.50"/>
<line x1="178.7" y1="284.0" x2="181.9" y2="284.0" stroke-width="0.50"/>
<line x1="131.2" y1="292.0" x2="134.0" y2="292.0" stroke-width="0.50"/>
<line x1="178.7" y1="292.0" x2="181.9" y2="292.0" stroke-width="0.50"/>
<line x1="131.2" y1="300.0" x2="134.0" y2="300.0" stroke-width="0.50"/>
<line x1="178.7" y1="300.0" x2="181.9" y2="300.0" stroke-width="0.50"/>
<line x1="131.2" y1="308.0" x2="134.0" y2="308.0" stroke-width="0.50"/>
<line x1="178.7" y1="308.0" x2="181.9" y2="308.0" stroke-width="0.50"/>
<line x1="134.0" y1="270.0" x2="140.5" y2="270.0" stroke-width="0.50"/>
<line x1="170.0" y1="270.0" x2="178.7" y2="270.0" stroke-width="0.50"/>
<path d="M135.8,308 L135.8,305.5 L138.5,303 L172,303 L174.1,305.5 L174.1,308 L171.5,312 L171.5,320.5 L139,320.5 L139,312 Z" stroke-width="0.90" fill="#fff" />
<circle cx="139.0" cy="306.5" r="1.9" stroke-width="0.80" fill="none"/>
<circle cx="171.2" cy="306.5" r="1.9" stroke-width="0.80" fill="none"/>
<defs><clipPath id="mc"><circle cx="155.3" cy="315.7" r="14.7"/></clipPath></defs>
<circle cx="155.3" cy="315.7" r="14.7" stroke-width="1.50" fill="#fff"/>
<g clip-path="url(#mc)" stroke="#222" stroke-width="0.6">
<line x1="113.3" y1="335.7" x2="153.3" y2="295.7"/>
<line x1="113.3" y1="295.7" x2="153.3" y2="335.7"/>
<line x1="116.0" y1="335.7" x2="156.0" y2="295.7"/>
<line x1="116.0" y1="295.7" x2="156.0" y2="335.7"/>
<line x1="118.7" y1="335.7" x2="158.7" y2="295.7"/>
<line x1="118.7" y1="295.7" x2="158.7" y2="335.7"/>
<line x1="121.4" y1="335.7" x2="161.4" y2="295.7"/>
<line x1="121.4" y1="295.7" x2="161.4" y2="335.7"/>
<line x1="124.1" y1="335.7" x2="164.1" y2="295.7"/>
<line x1="124.1" y1="295.7" x2="164.1" y2="335.7"/>
<line x1="126.8" y1="335.7" x2="166.8" y2="295.7"/>
<line x1="126.8" y1="295.7" x2="166.8" y2="335.7"/>
<line x1="129.5" y1="335.7" x2="169.5" y2="295.7"/>
<line x1="129.5" y1="295.7" x2="169.5" y2="335.7"/>
<line x1="132.2" y1="335.7" x2="172.2" y2="295.7"/>
<line x1="132.2" y1="295.7" x2="172.2" y2="335.7"/>
<line x1="134.9" y1="335.7" x2="174.9" y2="295.7"/>
<line x1="134.9" y1="295.7" x2="174.9" y2="335.7"/>
<line x1="137.6" y1="335.7" x2="177.6" y2="295.7"/>
<line x1="137.6" y1="295.7" x2="177.6" y2="335.7"/>
<line x1="140.3" y1="335.7" x2="180.3" y2="295.7"/>
<line x1="140.3" y1="295.7" x2="180.3" y2="335.7"/>
<line x1="143.0" y1="335.7" x2="183.0" y2="295.7"/>
<line x1="143.0" y1="295.7" x2="183.0" y2="335.7"/>
<line x1="145.7" y1="335.7" x2="185.7" y2="295.7"/>
<line x1="145.7" y1="295.7" x2="185.7" y2="335.7"/>
<line x1="148.4" y1="335.7" x2="188.4" y2="295.7"/>
<line x1="148.4" y1="295.7" x2="188.4" y2="335.7"/>
<line x1="151.1" y1="335.7" x2="191.1" y2="295.7"/>
<line x1="151.1" y1="295.7" x2="191.1" y2="335.7"/>
<line x1="153.8" y1="335.7" x2="193.8" y2="295.7"/>
<line x1="153.8" y1="295.7" x2="193.8" y2="335.7"/>
<line x1="156.5" y1="335.7" x2="196.5" y2="295.7"/>
<line x1="156.5" y1="295.7" x2="196.5" y2="335.7"/>
</g>
<circle cx="155.3" cy="315.7" r="14.7" stroke-width="1.50" fill="none"/>
<line x1="100.0" y1="315.7" x2="140.6" y2="315.7" stroke-width="0.50"/>
<line x1="170.0" y1="315.7" x2="205.0" y2="315.7" stroke-width="0.50"/>
<path d="M108.5,315.7 L118,314.59999999999997 L128.5,315.7 L118,316.8 Z" stroke-width="0.30" fill="#333" />
<path d="M183,315.7 L193,314.59999999999997 L202,315.7 L193,316.8 Z" stroke-width="0.30" fill="#333" />
<line x1="155.3" y1="210.0" x2="155.3" y2="247.0" stroke-width="0.50"/>
<line x1="155.3" y1="330.0" x2="155.3" y2="367.0" stroke-width="0.50"/>
<rect x="130.3" y="320.5" width="9.5" height="16.7" rx="0" stroke-width="0.90" fill="#fff"/>
<circle cx="134.3" cy="326.0" r="1.7" stroke-width="0.80" fill="none"/>
<line x1="131.5" y1="326.0" x2="137.1" y2="326.0" stroke-width="0.50"/>
<line x1="134.3" y1="323.3" x2="134.3" y2="328.7" stroke-width="0.50"/>
<rect x="132.1" y="331.0" width="5.2" height="4.6" rx="0" stroke-width="0.70" fill="none"/>
<rect x="171.7" y="320.5" width="9.5" height="16.7" rx="0" stroke-width="0.90" fill="#fff"/>
<circle cx="175.7" cy="326.0" r="1.7" stroke-width="0.80" fill="none"/>
<line x1="172.9" y1="326.0" x2="178.5" y2="326.0" stroke-width="0.50"/>
<line x1="175.7" y1="323.3" x2="175.7" y2="328.7" stroke-width="0.50"/>
<rect x="173.5" y="331.0" width="5.2" height="4.6" rx="0" stroke-width="0.70" fill="none"/>
<line x1="130.3" y1="337.2" x2="181.2" y2="337.2" stroke-width="0.80"/>
<path d="M139.8,337.6 Q155.3,342.5 171.7,337.6" stroke-width="1.10" fill="none" />
<path d="M152.3,336.3 L155.3,331.3 L158.3,336.3 Z" stroke-width="0.80" fill="#fff" />
<circle cx="155.3" cy="334.8" r="1.0" stroke-width="0.60" fill="none"/>
<line x1="139.8" y1="320.5" x2="171.7" y2="320.5" stroke-width="0.60"/>
<line x1="142.2" y1="338.8" x2="132.7" y2="354.7" stroke-width="0.80"/>
<line x1="140.0" y1="338.8" x2="130.7" y2="353.6" stroke-width="0.80"/>
<line x1="132.7" y1="354.7" x2="130.7" y2="353.6" stroke-width="0.80"/>
<line x1="168.4" y1="338.8" x2="177.9" y2="354.7" stroke-width="0.80"/>
<line x1="170.6" y1="338.8" x2="179.9" y2="353.6" stroke-width="0.80"/>
<line x1="177.9" y1="354.7" x2="179.9" y2="353.6" stroke-width="0.80"/>
<path d="M129.6,346.5 L126.0,348.6 L122.4,346.5 L122.4,342.3 L126.0,340.2 L129.6,342.3 Z" stroke-width="1.00" fill="#fff" />
<circle cx="126.0" cy="344.4" r="3.0" stroke-width="0.60" fill="none"/>
<path d="M187.5,346.5 L183.9,348.6 L180.3,346.5 L180.3,342.3 L183.9,340.2 L187.5,342.3 Z" stroke-width="1.00" fill="#fff" />
<circle cx="183.9" cy="344.4" r="3.0" stroke-width="0.60" fill="none"/>
<rect x="185.0" y="265.5" width="4.8" height="6.3" rx="0" stroke-width="0.80" fill="#fff"/>
<line x1="189.8" y1="267.0" x2="202.3" y2="267.0" stroke-width="1.00"/>
<line x1="189.8" y1="268.6" x2="202.3" y2="268.6" stroke-width="0.50"/>
<rect x="201.6" y="262.0" width="2.6" height="9.0" rx="0" stroke-width="0.70" fill="#fff"/>
<rect x="185.0" y="303.8" width="4.8" height="11.2" rx="0" stroke-width="0.80" fill="#fff"/>
<line x1="189.8" y1="310.5" x2="202.3" y2="310.5" stroke-width="1.00"/>
<line x1="189.8" y1="312.1" x2="202.3" y2="312.1" stroke-width="0.50"/>
<rect x="201.6" y="305.5" width="2.6" height="9.0" rx="0" stroke-width="0.70" fill="#fff"/>
<line x1="189.8" y1="271.8" x2="189.8" y2="303.8" stroke-width="0.60"/>
<rect x="204.2" y="259.0" width="5.8" height="59.9" rx="0" stroke-width="1.20" fill="#fff"/>
<path d="M207,300 L207,321.5 L211,321.5" stroke-width="1.50" fill="none" />
<rect x="213.2" y="258.6" width="102.2" height="124.2" rx="1.5" stroke-width="1.40" fill="#fff"/>
<rect x="218.8" y="265.9" width="90.3" height="107.8" rx="0" stroke-width="0.70" fill="none"/>
<line x1="213.2" y1="382.8" x2="218.8" y2="373.7" stroke-width="0.60"/>
<line x1="315.4" y1="382.8" x2="309.1" y2="373.7" stroke-width="0.60"/>
<line x1="213.2" y1="258.6" x2="218.8" y2="265.9" stroke-width="0.60"/>
<line x1="315.4" y1="258.6" x2="309.1" y2="265.9" stroke-width="0.60"/>
<rect x="216.0" y="262.0" width="96.6" height="116.5" rx="0" stroke-width="0.50" fill="none"/>
<line x1="218.8" y1="270.5" x2="309.4" y2="270.5" stroke-width="0.60"/>
<path d="M232,270.5 Q262,276 292,270.5" stroke-width="0.60" fill="none" />
<line x1="235.4" y1="278.5" x2="288.4" y2="278.5" stroke-width="0.80"/>
<line x1="235.4" y1="280.2" x2="288.4" y2="280.2" stroke-width="0.50"/>
<line x1="213.2" y1="282.6" x2="316.0" y2="282.6" stroke-width="0.60"/>
<line x1="218.8" y1="288.2" x2="248.0" y2="288.2" stroke-width="1.20" stroke="#555"/>
<line x1="280.0" y1="288.2" x2="309.4" y2="288.2" stroke-width="1.20" stroke="#555"/>
<line x1="218.8" y1="291.5" x2="240.0" y2="291.5" stroke-width="0.60"/>
<line x1="288.0" y1="291.5" x2="309.4" y2="291.5" stroke-width="0.60"/>
<path d="M245.5,292.6 Q251,290.5 249.2,286.5 Q247.8,282 252.5,281.4 L275.7,281.4 Q280.4,282 279,286.5 Q277.2,290.5 282.7,292.6 Q272,296.6 264.1,296.6 Q256,296.6 245.5,292.6" stroke-width="1.00" fill="#fff" />
<line x1="224.0" y1="265.9" x2="224.0" y2="300.0" stroke-width="0.50"/>
<line x1="229.0" y1="265.9" x2="229.0" y2="300.0" stroke-width="0.50"/>
<line x1="234.0" y1="265.9" x2="234.0" y2="300.0" stroke-width="0.50"/>
<line x1="294.0" y1="265.9" x2="294.0" y2="282.6" stroke-width="0.50"/>
<line x1="299.0" y1="265.9" x2="299.0" y2="282.6" stroke-width="0.50"/>
<line x1="304.0" y1="265.9" x2="304.0" y2="282.6" stroke-width="0.50"/>
<path d="M296,267.5 L307,267.5 L307,279 L303,281 L303,274 L296,274 Z" stroke-width="0.70" fill="none" />
<line x1="218.8" y1="300.0" x2="228.0" y2="300.0" stroke-width="0.60"/>
<line x1="300.0" y1="300.0" x2="309.4" y2="300.0" stroke-width="0.60"/>
<line x1="218.8" y1="308.0" x2="223.5" y2="308.0" stroke-width="0.50"/>
<line x1="218.8" y1="318.0" x2="223.5" y2="318.0" stroke-width="0.50"/>
<line x1="218.8" y1="346.0" x2="223.5" y2="346.0" stroke-width="0.50"/>
<line x1="218.8" y1="356.0" x2="223.5" y2="356.0" stroke-width="0.50"/>
<line x1="218.8" y1="364.0" x2="223.5" y2="364.0" stroke-width="0.50"/>
<line x1="304.5" y1="346.0" x2="309.4" y2="346.0" stroke-width="0.50"/>
<line x1="304.5" y1="356.0" x2="309.4" y2="356.0" stroke-width="0.50"/>
<line x1="304.5" y1="364.0" x2="309.4" y2="364.0" stroke-width="0.50"/>
<line x1="223.5" y1="300.0" x2="223.5" y2="373.7" stroke-width="0.50"/>
<line x1="304.5" y1="300.0" x2="304.5" y2="373.7" stroke-width="0.50"/>
<circle cx="264.1" cy="331.9" r="38.2" stroke-width="0.90" fill="#fff"/>
<circle cx="264.1" cy="331.9" r="36.3" stroke-width="0.50" fill="none"/>
<circle cx="264.1" cy="331.9" r="29.6" stroke-width="0.60" fill="none"/>
<circle cx="264.1" cy="331.9" r="27.9" stroke-width="1.10" fill="none"/>
<circle cx="264.1" cy="331.9" r="26.4" stroke-width="0.60" fill="none"/>
<circle cx="264.1" cy="331.9" r="24.9" stroke-width="0.90" fill="none"/>
<circle cx="264.1" cy="331.9" r="23.6" stroke-width="0.60" fill="none"/>
<circle cx="264.1" cy="331.9" r="22.3" stroke-width="0.90" fill="none"/>
<circle cx="264.1" cy="331.9" r="21.1" stroke-width="0.60" fill="none"/>
<circle cx="264.1" cy="331.9" r="19.9" stroke-width="0.80" fill="none"/>
<circle cx="264.1" cy="331.9" r="16.9" stroke-width="0.90" fill="none"/>
<circle cx="264.1" cy="331.9" r="12.5" stroke-width="0.70" fill="none"/>
<path d="M260.7,323.6 L260.7,320.3 L267.5,320.3 L267.5,323.6 A9.0,9.0 0 1 1 260.7,323.6" stroke-width="1.00" fill="none" />
<circle cx="297.7" cy="331.9" r="2.7" stroke-width="0.90" fill="#fff"/>
<circle cx="297.7" cy="331.9" r="1.5" stroke-width="0.80" fill="none"/>
<circle cx="297.7" cy="331.9" r="0.5" stroke-width="0.50" fill="#222"/>
<circle cx="294.6" cy="344.5" r="2.2" stroke-width="0.70" fill="none"/>
<line x1="293.5" y1="326.2" x2="298.9" y2="325.1" stroke-width="0.50"/>
<line x1="293.5" y1="337.6" x2="298.9" y2="338.7" stroke-width="0.50"/>
<circle cx="287.9" cy="355.7" r="2.7" stroke-width="0.90" fill="#fff"/>
<circle cx="287.9" cy="355.7" r="1.5" stroke-width="0.80" fill="none"/>
<circle cx="287.9" cy="355.7" r="0.5" stroke-width="0.50" fill="#222"/>
<circle cx="276.7" cy="362.4" r="2.2" stroke-width="0.70" fill="none"/>
<line x1="289.0" y1="348.7" x2="293.5" y2="351.8" stroke-width="0.50"/>
<line x1="280.9" y1="356.8" x2="284.0" y2="361.3" stroke-width="0.50"/>
<circle cx="264.1" cy="365.5" r="2.7" stroke-width="0.90" fill="#fff"/>
<circle cx="264.1" cy="365.5" r="1.5" stroke-width="0.80" fill="none"/>
<circle cx="264.1" cy="365.5" r="0.5" stroke-width="0.50" fill="#222"/>
<circle cx="251.5" cy="362.4" r="2.2" stroke-width="0.70" fill="none"/>
<line x1="269.8" y1="361.3" x2="270.9" y2="366.7" stroke-width="0.50"/>
<line x1="258.4" y1="361.3" x2="257.3" y2="366.7" stroke-width="0.50"/>
<circle cx="240.3" cy="355.7" r="2.7" stroke-width="0.90" fill="#fff"/>
<circle cx="240.3" cy="355.7" r="1.5" stroke-width="0.80" fill="none"/>
<circle cx="240.3" cy="355.7" r="0.5" stroke-width="0.50" fill="#222"/>
<circle cx="233.6" cy="344.5" r="2.2" stroke-width="0.70" fill="none"/>
<line x1="247.3" y1="356.8" x2="244.2" y2="361.3" stroke-width="0.50"/>
<line x1="239.2" y1="348.7" x2="234.7" y2="351.8" stroke-width="0.50"/>
<circle cx="230.5" cy="331.9" r="2.7" stroke-width="0.90" fill="#fff"/>
<circle cx="230.5" cy="331.9" r="1.5" stroke-width="0.80" fill="none"/>
<circle cx="230.5" cy="331.9" r="0.5" stroke-width="0.50" fill="#222"/>
<circle cx="233.6" cy="319.3" r="2.2" stroke-width="0.70" fill="none"/>
<line x1="234.7" y1="337.6" x2="229.3" y2="338.7" stroke-width="0.50"/>
<line x1="234.7" y1="326.2" x2="229.3" y2="325.1" stroke-width="0.50"/>
<circle cx="240.3" cy="308.1" r="2.7" stroke-width="0.90" fill="#fff"/>
<circle cx="240.3" cy="308.1" r="1.5" stroke-width="0.80" fill="none"/>
<circle cx="240.3" cy="308.1" r="0.5" stroke-width="0.50" fill="#222"/>
<circle cx="251.5" cy="301.4" r="2.2" stroke-width="0.70" fill="none"/>
<line x1="239.2" y1="315.1" x2="234.7" y2="312.0" stroke-width="0.50"/>
<line x1="247.3" y1="307.0" x2="244.2" y2="302.5" stroke-width="0.50"/>
<circle cx="264.1" cy="298.3" r="2.7" stroke-width="0.90" fill="#fff"/>
<circle cx="264.1" cy="298.3" r="1.5" stroke-width="0.80" fill="none"/>
<circle cx="264.1" cy="298.3" r="0.5" stroke-width="0.50" fill="#222"/>
<circle cx="276.7" cy="301.4" r="2.2" stroke-width="0.70" fill="none"/>
<line x1="258.4" y1="302.5" x2="257.3" y2="297.1" stroke-width="0.50"/>
<line x1="269.8" y1="302.5" x2="270.9" y2="297.1" stroke-width="0.50"/>
<circle cx="287.9" cy="308.1" r="2.7" stroke-width="0.90" fill="#fff"/>
<circle cx="287.9" cy="308.1" r="1.5" stroke-width="0.80" fill="none"/>
<circle cx="287.9" cy="308.1" r="0.5" stroke-width="0.50" fill="#222"/>
<circle cx="294.6" cy="319.3" r="3.5" stroke-width="0.90" fill="#fff"/>
<circle cx="294.6" cy="319.3" r="2.2" stroke-width="0.50" fill="none"/>
<line x1="280.9" y1="307.0" x2="284.0" y2="302.5" stroke-width="0.50"/>
<line x1="289.0" y1="315.1" x2="293.5" y2="312.0" stroke-width="0.50"/>
<line x1="100.0" y1="331.9" x2="100.0" y2="331.9" stroke-width="0.70"/>
<line x1="198.0" y1="331.9" x2="386.7" y2="331.9" stroke-width="0.50"/>
<line x1="264.1" y1="215.0" x2="264.1" y2="392.0" stroke-width="0.50"/>
<path d="M309.4,287.4 A63.5,63.5 0 0 1 327.6,330.8" stroke-width="0.80" fill="none" />
<polygon points="327.6,331.3 326.0,322.3 328.6,322.3" fill="#111" stroke="none"/>
<line x1="308.8" y1="288.2" x2="291.2" y2="306.3" stroke-width="0.80"/>
<text transform="translate(330.8,306.2) rotate(96) scale(1.0,1)" font-family="Liberation Serif" font-size="17" font-weight="normal" fill="#222" stroke="#222" stroke-width="0.25" text-anchor="middle" dominant-baseline="central">α</text>
<line x1="125.5" y1="216.0" x2="125.5" y2="270.0" stroke-width="0.70"/>
<line x1="314.3" y1="215.0" x2="314.3" y2="258.6" stroke-width="0.70"/>
<line x1="125.5" y1="219.0" x2="154.0" y2="219.0" stroke-width="0.70"/>
<polygon points="125.5,219.0 135.0,217.6 135.0,220.4" fill="#111" stroke="none"/>
<polygon points="154.0,219.0 144.5,220.4 144.5,217.6" fill="#111" stroke="none"/>
<line x1="154.0" y1="219.0" x2="263.4" y2="219.0" stroke-width="0.70"/>
<polygon points="154.0,219.0 163.5,217.6 163.5,220.4" fill="#111" stroke="none"/>
<polygon points="263.4,219.0 253.9,220.4 253.9,217.6" fill="#111" stroke="none"/>
<line x1="263.4" y1="219.0" x2="314.3" y2="219.0" stroke-width="0.70"/>
<polygon points="263.4,219.0 272.9,217.6 272.9,220.4" fill="#111" stroke="none"/>
<polygon points="314.3,219.0 304.8,220.4 304.8,217.6" fill="#111" stroke="none"/>
<text transform="translate(139.8,211.1) scale(0.85,1)" font-family="Liberation Serif" font-size="14.5" font-weight="normal" fill="#222" stroke="#222" stroke-width="0.25" text-anchor="middle" dominant-baseline="central">H2</text>
<text transform="translate(288.7,210.8) scale(0.85,1)" font-family="Liberation Serif" font-size="14.5" font-weight="normal" fill="#222" stroke="#222" stroke-width="0.25" text-anchor="middle" dominant-baseline="central">M</text>
<text transform="translate(208.3,211.3) scale(0.85,1)" font-family="Liberation Sans" font-size="14" font-weight="normal" fill="#999" stroke="#999" stroke-width="0.25" text-anchor="middle" dominant-baseline="central">L</text>
<line x1="227.9" y1="244.0" x2="227.9" y2="262.0" stroke-width="0.70"/>
<line x1="299.6" y1="243.6" x2="299.6" y2="264.8" stroke-width="0.70"/>
<line x1="227.9" y1="247.9" x2="299.6" y2="247.9" stroke-width="0.70"/>
<polygon points="227.9,247.9 237.4,246.5 237.4,249.3" fill="#111" stroke="none"/>
<polygon points="299.6,247.9 290.1,249.3 290.1,246.5" fill="#111" stroke="none"/>
<text transform="translate(263.2,239.8) scale(0.85,1)" font-family="Liberation Serif" font-size="14.5" font-weight="normal" fill="#222" stroke="#222" stroke-width="0.25" text-anchor="middle" dominant-baseline="central">C</text>
<line x1="72.4" y1="252.4" x2="134.8" y2="252.4" stroke-width="0.70"/>
<line x1="72.4" y1="287.4" x2="128.0" y2="287.4" stroke-width="0.70"/>
<line x1="72.4" y1="337.5" x2="130.0" y2="337.5" stroke-width="0.70"/>
<line x1="91.0" y1="315.6" x2="128.0" y2="315.6" stroke-width="0.70"/>
<line x1="74.4" y1="252.4" x2="74.4" y2="287.4" stroke-width="0.70"/>
<polygon points="74.4,252.4 75.9,261.9 73.0,261.9" fill="#111" stroke="none"/>
<polygon points="74.4,287.4 73.0,277.9 75.9,277.9" fill="#111" stroke="none"/>
<line x1="74.4" y1="287.4" x2="74.4" y2="337.5" stroke-width="0.70"/>
<polygon points="74.4,287.4 75.9,296.9 73.0,296.9" fill="#111" stroke="none"/>
<polygon points="74.4,337.5 73.0,328.0 75.9,328.0" fill="#111" stroke="none"/>
<line x1="94.4" y1="287.4" x2="94.4" y2="315.6" stroke-width="0.70"/>
<polygon points="94.4,287.4 95.9,296.9 93.0,296.9" fill="#111" stroke="none"/>
<polygon points="94.4,315.6 93.0,306.1 95.9,306.1" fill="#111" stroke="none"/>
<text transform="translate(66.0,269.8) rotate(-90) scale(0.85,1)" font-family="Liberation Serif" font-size="14.5" font-weight="normal" fill="#222" stroke="#222" stroke-width="0.25" text-anchor="middle" dominant-baseline="central">M1</text>
<text transform="translate(66.0,312.2) rotate(-90) scale(0.85,1)" font-family="Liberation Serif" font-size="14.5" font-weight="normal" fill="#222" stroke="#222" stroke-width="0.25" text-anchor="middle" dominant-baseline="central">N1</text>
<text transform="translate(87.2,301.0) rotate(-90) scale(0.85,1)" font-family="Liberation Serif" font-size="14.5" font-weight="normal" fill="#222" stroke="#222" stroke-width="0.25" text-anchor="middle" dominant-baseline="central">O1</text>
<line x1="192.0" y1="383.2" x2="213.2" y2="383.2" stroke-width="0.70"/>
<line x1="192.0" y1="378.0" x2="213.2" y2="378.0" stroke-width="0.70"/>
<line x1="195.8" y1="359.8" x2="195.8" y2="378.0" stroke-width="0.70"/>
<polygon points="195.8,378.0 194.4,368.5 197.2,368.5" fill="#111" stroke="none"/>
<line x1="195.8" y1="383.2" x2="195.8" y2="413.2" stroke-width="0.70"/>
<polygon points="195.8,383.2 197.2,392.7 194.4,392.7" fill="#111" stroke="none"/>
<text transform="translate(187.6,407.0) rotate(-90) scale(0.85,1)" font-family="Liberation Serif" font-size="14.5" font-weight="normal" fill="#222" stroke="#222" stroke-width="0.25" text-anchor="middle" dominant-baseline="central">T</text>
<line x1="316.0" y1="258.6" x2="407.0" y2="258.6" stroke-width="0.70"/>
<line x1="316.0" y1="275.3" x2="366.0" y2="275.3" stroke-width="0.70"/>
<line x1="310.0" y1="367.8" x2="367.2" y2="367.8" stroke-width="0.70"/>
<line x1="316.0" y1="370.3" x2="344.0" y2="370.3" stroke-width="0.70"/>
<line x1="316.0" y1="383.3" x2="408.4" y2="383.3" stroke-width="0.70"/>
<line x1="362.7" y1="275.3" x2="362.7" y2="331.9" stroke-width="0.70"/>
<polygon points="362.7,275.3 364.1,284.8 361.2,284.8" fill="#111" stroke="none"/>
<polygon points="362.7,331.9 361.2,322.4 364.1,322.4" fill="#111" stroke="none"/>
<line x1="362.7" y1="331.9" x2="362.7" y2="367.8" stroke-width="0.70"/>
<polygon points="362.7,331.9 364.1,341.4 361.2,341.4" fill="#111" stroke="none"/>
<polygon points="362.7,367.8 361.2,358.3 364.1,358.3" fill="#111" stroke="none"/>
<line x1="382.9" y1="258.6" x2="382.9" y2="331.9" stroke-width="0.70"/>
<polygon points="382.9,258.6 384.3,268.1 381.4,268.1" fill="#111" stroke="none"/>
<polygon points="382.9,331.9 381.4,322.4 384.3,322.4" fill="#111" stroke="none"/>
<line x1="382.9" y1="331.9" x2="382.9" y2="383.3" stroke-width="0.70"/>
<polygon points="382.9,331.9 384.3,341.4 381.4,341.4" fill="#111" stroke="none"/>
<polygon points="382.9,383.3 381.4,373.8 384.3,373.8" fill="#111" stroke="none"/>
<line x1="404.6" y1="258.6" x2="404.6" y2="383.3" stroke-width="0.70"/>
<polygon points="404.6,258.6 406.1,268.1 403.2,268.1" fill="#111" stroke="none"/>
<polygon points="404.6,383.3 403.2,373.8 406.1,373.8" fill="#111" stroke="none"/>
<text transform="translate(353.5,303.5) rotate(-90) scale(0.85,1)" font-family="Liberation Serif" font-size="14.5" font-weight="normal" fill="#222" stroke="#222" stroke-width="0.25" text-anchor="middle" dominant-baseline="central">Q</text>
<text transform="translate(353.5,349.9) rotate(-90) scale(0.85,1)" font-family="Liberation Serif" font-size="14.5" font-weight="normal" fill="#222" stroke="#222" stroke-width="0.25" text-anchor="middle" dominant-baseline="central">V</text>
<text transform="translate(374.0,294.7) rotate(-90) scale(0.85,1)" font-family="Liberation Serif" font-size="14.5" font-weight="normal" fill="#222" stroke="#222" stroke-width="0.25" text-anchor="middle" dominant-baseline="central">N</text>
<text transform="translate(374.0,357.3) rotate(-90) scale(0.85,1)" font-family="Liberation Serif" font-size="14.5" font-weight="normal" fill="#222" stroke="#222" stroke-width="0.25" text-anchor="middle" dominant-baseline="central">M</text>
<text transform="translate(395.7,320.0) rotate(-90) scale(0.85,1)" font-family="Liberation Serif" font-size="14.5" font-weight="normal" fill="#222" stroke="#222" stroke-width="0.25" text-anchor="middle" dominant-baseline="central">B</text>
<line x1="339.9" y1="347.9" x2="339.9" y2="367.8" stroke-width="0.70"/>
<polygon points="339.9,367.8 338.4,358.3 341.3,358.3" fill="#111" stroke="none"/>
<line x1="339.9" y1="370.3" x2="339.9" y2="405.5" stroke-width="0.70"/>
<polygon points="339.9,370.3 341.3,379.8 338.4,379.8" fill="#111" stroke="none"/>
<text transform="translate(331.5,399.0) rotate(-90) scale(0.85,1)" font-family="Liberation Serif" font-size="14.5" font-weight="normal" fill="#222" stroke="#222" stroke-width="0.25" text-anchor="middle" dominant-baseline="central">R</text>
<line x1="213.6" y1="383.0" x2="213.6" y2="474.5" stroke-width="0.70"/>
<line x1="317.1" y1="383.0" x2="317.1" y2="474.5" stroke-width="0.70"/>
<line x1="226.1" y1="383.0" x2="226.1" y2="452.5" stroke-width="0.70"/>
<line x1="304.7" y1="383.0" x2="304.7" y2="452.5" stroke-width="0.70"/>
<line x1="231.1" y1="383.0" x2="231.1" y2="429.5" stroke-width="0.70"/>
<line x1="299.7" y1="383.0" x2="299.7" y2="429.5" stroke-width="0.70"/>
<line x1="286.0" y1="350.0" x2="286.0" y2="407.0" stroke-width="0.70"/>
<line x1="291.7" y1="350.0" x2="291.7" y2="407.0" stroke-width="0.70"/>
<line x1="298.4" y1="340.0" x2="298.4" y2="407.0" stroke-width="0.70"/>
<line x1="248.6" y1="403.4" x2="309.7" y2="403.4" stroke-width="0.70"/>
<polygon points="286.0,403.4 276.5,404.8 276.5,401.9" fill="#111" stroke="none"/>
<polygon points="298.4,403.4 307.9,401.9 307.9,404.8" fill="#111" stroke="none"/>
<text transform="translate(258.5,395.8) scale(0.85,1)" font-family="Liberation Serif" font-size="14.5" font-weight="normal" fill="#222" stroke="#222" stroke-width="0.25" text-anchor="middle" dominant-baseline="central">PE</text>
<line x1="231.1" y1="426.9" x2="299.7" y2="426.9" stroke-width="0.70"/>
<polygon points="231.1,426.9 240.6,425.4 240.6,428.3" fill="#111" stroke="none"/>
<polygon points="299.7,426.9 290.2,428.3 290.2,425.4" fill="#111" stroke="none"/>
<text transform="translate(265.5,418.6) scale(0.85,1)" font-family="Liberation Serif" font-size="14.5" font-weight="normal" fill="#222" stroke="#222" stroke-width="0.25" text-anchor="middle" dominant-baseline="central">H</text>
<line x1="226.1" y1="449.8" x2="304.7" y2="449.8" stroke-width="0.70"/>
<polygon points="226.1,449.8 235.6,448.4 235.6,451.2" fill="#111" stroke="none"/>
<polygon points="304.7,449.8 295.2,451.2 295.2,448.4" fill="#111" stroke="none"/>
<text transform="translate(266.0,441.6) scale(0.85,1)" font-family="Liberation Serif" font-size="14.5" font-weight="normal" fill="#222" stroke="#222" stroke-width="0.25" text-anchor="middle" dominant-baseline="central">P</text>
<line x1="213.6" y1="471.3" x2="317.1" y2="471.3" stroke-width="0.70"/>
<polygon points="213.6,471.3 223.1,469.9 223.1,472.8" fill="#111" stroke="none"/>
<polygon points="317.1,471.3 307.6,472.8 307.6,469.9" fill="#111" stroke="none"/>
<text transform="translate(266.0,464.0) scale(0.85,1)" font-family="Liberation Serif" font-size="14.5" font-weight="normal" fill="#222" stroke="#222" stroke-width="0.25" text-anchor="middle" dominant-baseline="central">A</text>
<g transform="translate(637.1,286.8)">
<path d="M-36.4,51 L-36.4,-33.6 Q-36.4,-35.3 -34.7,-35.3 L34.7,-35.3 Q36.4,-35.3 36.4,-33.6 L36.4,51" stroke-width="1.56" fill="none" />
<line x1="-36.4" y1="51.0" x2="-16.5" y2="51.0" stroke-width="1.56"/>
<line x1="18.0" y1="51.0" x2="36.4" y2="51.0" stroke-width="1.56"/>
<path d="M-31.8,47.5 L-31.8,-31 L31.8,-31 L31.8,47.5" stroke-width="0.84" fill="none" />
<rect x="-27.5" y="-35.3" width="10.5" height="4.3" rx="0" stroke-width="0.84" fill="none"/>
<line x1="-20.5" y1="-35.3" x2="-20.5" y2="-31.0" stroke-width="0.60"/>
<line x1="-24.0" y1="-35.3" x2="-24.0" y2="-31.0" stroke-width="0.60"/>
<line x1="-34.2" y1="-24.0" x2="-34.2" y2="-6.0" stroke-width="0.72"/>
<line x1="-33.0" y1="-24.0" x2="-33.0" y2="-6.0" stroke-width="0.60"/>
<line x1="-36.4" y1="-24.0" x2="-31.8" y2="-24.0" stroke-width="0.72"/>
<line x1="-36.4" y1="-6.0" x2="-31.8" y2="-6.0" stroke-width="0.72"/>
<line x1="-36.4" y1="-15.0" x2="-33.0" y2="-15.0" stroke-width="0.60"/>
<line x1="-29.5" y1="-31.0" x2="-29.5" y2="-20.0" stroke-width="0.60"/>
<rect x="17.0" y="-35.3" width="10.5" height="4.3" rx="0" stroke-width="0.84" fill="none"/>
<line x1="20.5" y1="-35.3" x2="20.5" y2="-31.0" stroke-width="0.60"/>
<line x1="24.0" y1="-35.3" x2="24.0" y2="-31.0" stroke-width="0.60"/>
<line x1="34.2" y1="-24.0" x2="34.2" y2="-6.0" stroke-width="0.72"/>
<line x1="33.0" y1="-24.0" x2="33.0" y2="-6.0" stroke-width="0.60"/>
<line x1="36.4" y1="-24.0" x2="31.8" y2="-24.0" stroke-width="0.72"/>
<line x1="36.4" y1="-6.0" x2="31.8" y2="-6.0" stroke-width="0.72"/>
<line x1="36.4" y1="-15.0" x2="33.0" y2="-15.0" stroke-width="0.60"/>
<line x1="29.5" y1="-31.0" x2="29.5" y2="-20.0" stroke-width="0.60"/>
<line x1="-31.8" y1="-16.2" x2="-17.0" y2="-31.0" stroke-width="0.96"/>
<line x1="-33.2" y1="-17.2" x2="-18.0" y2="-32.4" stroke-width="0.60"/>
<line x1="-31.8" y1="16.2" x2="-17.8" y2="30.2" stroke-width="0.96"/>
<line x1="31.8" y1="-16.2" x2="17.0" y2="-31.0" stroke-width="0.96"/>
<line x1="33.2" y1="-17.2" x2="18.0" y2="-32.4" stroke-width="0.60"/>
<line x1="31.8" y1="16.2" x2="17.8" y2="30.2" stroke-width="0.96"/>
<circle cx="0.0" cy="0.0" r="31.7" stroke-width="1.20" fill="none"/>
<circle cx="0.0" cy="0.0" r="29.6" stroke-width="0.60" fill="none"/>
<circle cx="0.0" cy="0.0" r="22.7" stroke-width="1.08" fill="none"/>
<circle cx="0.0" cy="0.0" r="19.7" stroke-width="0.72" fill="none"/>
<circle cx="0.0" cy="0.0" r="16.8" stroke-width="1.56" fill="none"/>
<circle cx="0.0" cy="0.0" r="13.4" stroke-width="1.20" fill="none"/>
<circle cx="0.0" cy="0.0" r="9.4" stroke-width="1.08" fill="none"/>
<path d="M-2.0,-5.4 L-2.0,-7.6 L2.0,-7.6 L2.0,-5.4 A5.8,5.8 0 1 1 -2.0,-5.4" stroke-width="1.44" fill="none" />
<circle cx="27.3" cy="0.0" r="3.4" stroke-width="1.32" fill="#fff"/>
<circle cx="27.3" cy="0.0" r="1.6" stroke-width="1.08" fill="none"/>
<rect x="17.1" y="17.1" width="3.4" height="3.4" rx="0" stroke-width="0.72" fill="#333"/>
<rect x="18.2" y="18.2" width="1.2" height="1.2" rx="0" stroke-width="0.00" fill="#aaa"/>
<circle cx="0.0" cy="27.3" r="3.4" stroke-width="1.32" fill="#fff"/>
<circle cx="0.0" cy="27.3" r="1.6" stroke-width="1.08" fill="none"/>
<rect x="-20.5" y="17.1" width="3.4" height="3.4" rx="0" stroke-width="0.72" fill="#333"/>
<rect x="-19.4" y="18.2" width="1.2" height="1.2" rx="0" stroke-width="0.00" fill="#aaa"/>
<circle cx="-27.3" cy="0.0" r="3.4" stroke-width="1.32" fill="#fff"/>
<circle cx="-27.3" cy="0.0" r="1.6" stroke-width="1.08" fill="none"/>
<rect x="-20.5" y="-20.5" width="3.4" height="3.4" rx="0" stroke-width="0.72" fill="#333"/>
<rect x="-19.4" y="-19.4" width="1.2" height="1.2" rx="0" stroke-width="0.00" fill="#aaa"/>
<circle cx="-0.0" cy="-27.3" r="3.4" stroke-width="1.32" fill="#fff"/>
<circle cx="-0.0" cy="-27.3" r="1.6" stroke-width="1.08" fill="none"/>
<rect x="17.1" y="-20.5" width="3.4" height="3.4" rx="0" stroke-width="0.72" fill="#333"/>
<rect x="18.2" y="-19.4" width="1.2" height="1.2" rx="0" stroke-width="0.00" fill="#aaa"/>
<path d="M30.8,-3.8 Q29.4,-5.7 28.3,-8.7" stroke-width="0.96" fill="none" />
<path d="M28.6,-5.0 Q25.9,-12.1 20.6,-13.4" stroke-width="1.20" fill="none" />
<path d="M24.3,-3.8 Q24.1,-8.8 20.3,-10.8" stroke-width="1.08" fill="none" />
<path d="M26.9,-12.0 Q23.1,-16.8 19.6,-17.1" stroke-width="0.72" fill="none" />
<path d="M30.8,3.8 Q29.4,5.7 28.3,8.7" stroke-width="0.96" fill="none" />
<path d="M28.6,5.0 Q25.9,12.1 20.6,13.4" stroke-width="1.20" fill="none" />
<path d="M24.3,3.8 Q24.1,8.8 20.3,10.8" stroke-width="1.08" fill="none" />
<path d="M26.9,12.0 Q23.1,16.8 19.6,17.1" stroke-width="0.72" fill="none" />
<path d="M3.8,30.8 Q5.7,29.4 8.7,28.3" stroke-width="0.96" fill="none" />
<path d="M5.0,28.6 Q12.1,25.9 13.4,20.6" stroke-width="1.20" fill="none" />
<path d="M3.8,24.3 Q8.8,24.1 10.8,20.3" stroke-width="1.08" fill="none" />
<path d="M12.0,26.9 Q16.8,23.1 17.1,19.6" stroke-width="0.72" fill="none" />
<path d="M-3.8,30.8 Q-5.7,29.4 -8.7,28.3" stroke-width="0.96" fill="none" />
<path d="M-5.0,28.6 Q-12.1,25.9 -13.4,20.6" stroke-width="1.20" fill="none" />
<path d="M-3.8,24.3 Q-8.8,24.1 -10.8,20.3" stroke-width="1.08" fill="none" />
<path d="M-12.0,26.9 Q-16.8,23.1 -17.1,19.6" stroke-width="0.72" fill="none" />
<path d="M-30.8,3.8 Q-29.4,5.7 -28.3,8.7" stroke-width="0.96" fill="none" />
<path d="M-28.6,5.0 Q-25.9,12.1 -20.6,13.4" stroke-width="1.20" fill="none" />
<path d="M-24.3,3.8 Q-24.1,8.8 -20.3,10.8" stroke-width="1.08" fill="none" />
<path d="M-26.9,12.0 Q-23.1,16.8 -19.6,17.1" stroke-width="0.72" fill="none" />
<path d="M-30.8,-3.8 Q-29.4,-5.7 -28.3,-8.7" stroke-width="0.96" fill="none" />
<path d="M-28.6,-5.0 Q-25.9,-12.1 -20.6,-13.4" stroke-width="1.20" fill="none" />
<path d="M-24.3,-3.8 Q-24.1,-8.8 -20.3,-10.8" stroke-width="1.08" fill="none" />
<path d="M-26.9,-12.0 Q-23.1,-16.8 -19.6,-17.1" stroke-width="0.72" fill="none" />
<path d="M-3.8,-30.8 Q-5.7,-29.4 -8.7,-28.3" stroke-width="0.96" fill="none" />
<path d="M-5.0,-28.6 Q-12.1,-25.9 -13.4,-20.6" stroke-width="1.20" fill="none" />
<path d="M-3.8,-24.3 Q-8.8,-24.1 -10.8,-20.3" stroke-width="1.08" fill="none" />
<path d="M-12.0,-26.9 Q-16.8,-23.1 -17.1,-19.6" stroke-width="0.72" fill="none" />
<path d="M3.8,-30.8 Q5.7,-29.4 8.7,-28.3" stroke-width="0.96" fill="none" />
<path d="M5.0,-28.6 Q12.1,-25.9 13.4,-20.6" stroke-width="1.20" fill="none" />
<path d="M3.8,-24.3 Q8.8,-24.1 10.8,-20.3" stroke-width="1.08" fill="none" />
<path d="M12.0,-26.9 Q16.8,-23.1 17.1,-19.6" stroke-width="0.72" fill="none" />
<line x1="-36.4" y1="30.2" x2="36.4" y2="30.2" stroke-width="0.72"/>
<line x1="-31.8" y1="32.6" x2="31.8" y2="32.6" stroke-width="0.72"/>
<rect x="-22.0" y="30.2" width="41.5" height="12.8" rx="0" stroke-width="0.84" fill="none"/>
<line x1="-17.7" y1="36.8" x2="17.0" y2="36.8" stroke-width="2.04" stroke="#666"/>
<line x1="-17.7" y1="35.2" x2="17.0" y2="35.2" stroke-width="0.60"/>
<line x1="-17.7" y1="38.4" x2="17.0" y2="38.4" stroke-width="0.60"/>
<path d="M-22,43 L-14,43 L-5,40.5 L5,40.5 L14,43 L19.5,43" stroke-width="0.72" fill="none" />
<rect x="-4.0" y="40.5" width="8.0" height="1.6" rx="0" stroke-width="0.60" fill="none"/>
<line x1="-31.8" y1="45.2" x2="31.8" y2="45.2" stroke-width="0.72"/>
<line x1="-31.8" y1="47.5" x2="31.8" y2="47.5" stroke-width="0.84"/>
<line x1="-26.0" y1="32.6" x2="-26.0" y2="45.2" stroke-width="0.60"/>
<line x1="24.0" y1="32.6" x2="24.0" y2="45.2" stroke-width="0.60"/>
<line x1="-37.8" y1="52.0" x2="-37.8" y2="69.4" stroke-width="0.96"/>
<line x1="-35.6" y1="51.0" x2="-35.6" y2="69.4" stroke-width="0.72"/>
<rect x="-33.4" y="57.5" width="7.8" height="11.9" rx="0" stroke-width="0.84" fill="none"/>
<rect x="-36.9" y="69.4" width="14.6" height="27.4" rx="0" stroke-width="1.32" fill="none"/>
<rect x="-33.0" y="72.2" width="6.8" height="3.4" rx="1.5" stroke-width="0.84" fill="none"/>
<circle cx="-29.6" cy="81.2" r="3.2" stroke-width="0.96" fill="none"/>
<line x1="-34.0" y1="81.2" x2="-25.2" y2="81.2" stroke-width="0.60"/>
<line x1="-29.6" y1="76.8" x2="-29.6" y2="85.6" stroke-width="0.60"/>
<rect x="-32.7" y="87.8" width="6.2" height="4.6" rx="0" stroke-width="0.84" fill="none"/>
<line x1="-20.6" y1="51.0" x2="-20.6" y2="69.4" stroke-width="0.72"/>
<line x1="37.8" y1="52.0" x2="37.8" y2="69.4" stroke-width="0.96"/>
<line x1="35.6" y1="51.0" x2="35.6" y2="69.4" stroke-width="0.72"/>
<rect x="25.6" y="57.5" width="7.8" height="11.9" rx="0" stroke-width="0.84" fill="none"/>
<rect x="23.9" y="69.4" width="14.6" height="27.4" rx="0" stroke-width="1.32" fill="none"/>
<rect x="27.8" y="72.2" width="6.8" height="3.4" rx="1.5" stroke-width="0.84" fill="none"/>
<circle cx="31.2" cy="81.2" r="3.2" stroke-width="0.96" fill="none"/>
<line x1="26.8" y1="81.2" x2="35.6" y2="81.2" stroke-width="0.60"/>
<line x1="31.2" y1="76.8" x2="31.2" y2="85.6" stroke-width="0.60"/>
<rect x="28.1" y="87.8" width="6.2" height="4.6" rx="0" stroke-width="0.84" fill="none"/>
<line x1="20.6" y1="51.0" x2="20.6" y2="69.4" stroke-width="0.72"/>
<line x1="-17.7" y1="51.0" x2="-17.7" y2="90.0" stroke-width="0.84"/>
<line x1="-15.9" y1="51.0" x2="-15.9" y2="90.0" stroke-width="0.84"/>
<line x1="-10.5" y1="51.0" x2="-10.5" y2="90.0" stroke-width="0.84"/>
<line x1="-8.7" y1="51.0" x2="-8.7" y2="90.0" stroke-width="0.84"/>
<line x1="-4.0" y1="51.0" x2="-4.0" y2="90.0" stroke-width="0.84"/>
<line x1="-2.2" y1="51.0" x2="-2.2" y2="90.0" stroke-width="0.84"/>
<line x1="3.2" y1="51.0" x2="3.2" y2="90.0" stroke-width="0.84"/>
<line x1="5.0" y1="51.0" x2="5.0" y2="90.0" stroke-width="0.84"/>
<line x1="10.4" y1="51.0" x2="10.4" y2="90.0" stroke-width="0.84"/>
<line x1="12.2" y1="51.0" x2="12.2" y2="90.0" stroke-width="0.84"/>
<line x1="16.9" y1="51.0" x2="16.9" y2="90.0" stroke-width="0.84"/>
<line x1="19.3" y1="51.0" x2="19.3" y2="90.0" stroke-width="0.84"/>
<rect x="-15.9" y="57.6" width="3.0" height="8.6" rx="0" stroke-width="0.72" fill="none"/>
<path d="M-22.3,94.5 L-17.7,90.0 L-17.7,94.3 L-15.9,94.3 L-15.9,87.5 L-10.5,87.5 L-10.5,94.3 L-8.7,94.3 L-8.7,87.5 L-4,87.5 L-4,94.3 L-2.2,94.3 L-2.2,87.5 L3.2,87.5 L3.2,94.3 L5,94.3 L5,87.5 L10.4,87.5 L10.4,94.3 L12.2,94.3 L12.2,87.5 L16.9,87.5 L16.9,94.3 L19.3,94.3 L19.3,90.0 L23.9,94.5" stroke-width="1.20" fill="none" />
</g>
<line x1="637.1" y1="222.5" x2="637.1" y2="232.0" stroke-width="0.50"/>
<line x1="637.1" y1="243.5" x2="637.1" y2="395.0" stroke-width="0.50"/>
<line x1="596.0" y1="286.8" x2="716.0" y2="286.8" stroke-width="0.50"/>
<path d="M673.5,295 L677.5,298 L678.2,372 L677.5,380 L673.5,380" stroke-width="0.80" fill="none" />
<line x1="675.5" y1="297.0" x2="675.8" y2="380.0" stroke-width="0.50"/>
<path d="M452.5,280.2 L462.4,271.8 L496.8,271.8 L496.8,359.0 L462.4,359.0 L452.5,349.5 Z" stroke-width="1.10" fill="#fff" />
<path d="M496.8,280 L499,279.6 L502,272.7 L519.2,272.7 L519.2,259.1 L569.5,259.1 L569.5,273.5 L570.5,278 L570.5,342.6 L567.8,357.9 L503.4,357.9 L499,342.6 L496.8,342.6" stroke-width="1.10" fill="#fff" />
<path d="M499.5,283 L502.5,276 L519.2,276" stroke-width="0.60" fill="none" />
<path d="M500,346 L502.6,354.6 L568.4,354.6 L570,346" stroke-width="0.90" fill="none" />
<line x1="499.0" y1="342.6" x2="570.5" y2="342.6" stroke-width="1.00"/>
<line x1="498.5" y1="284.9" x2="570.0" y2="284.9" stroke-width="1.50"/>
<line x1="498.5" y1="291.6" x2="570.0" y2="291.6" stroke-width="1.50"/>
<line x1="498.5" y1="298.5" x2="570.0" y2="298.5" stroke-width="1.50"/>
<line x1="498.5" y1="305.4" x2="570.0" y2="305.4" stroke-width="1.50"/>
<line x1="498.5" y1="312.3" x2="570.0" y2="312.3" stroke-width="1.50"/>
<line x1="498.5" y1="319.2" x2="570.0" y2="319.2" stroke-width="1.50"/>
<line x1="498.5" y1="326.1" x2="570.0" y2="326.1" stroke-width="1.50"/>
<line x1="498.5" y1="333.0" x2="570.0" y2="333.0" stroke-width="1.50"/>
<line x1="498.5" y1="339.9" x2="570.0" y2="339.9" stroke-width="1.50"/>
<line x1="499.0" y1="284.0" x2="499.0" y2="342.6" stroke-width="0.70"/>
<line x1="503.0" y1="284.0" x2="503.0" y2="342.6" stroke-width="0.60"/>
<line x1="566.0" y1="284.0" x2="566.0" y2="342.6" stroke-width="0.60"/>
<rect x="514.7" y="287.0" width="39.0" height="23.1" rx="0" stroke-width="0.90" fill="#fff"/>
<line x1="507.0" y1="299.0" x2="514.7" y2="299.0" stroke-width="1.20" stroke="#555"/>
<line x1="553.7" y1="299.0" x2="561.0" y2="299.0" stroke-width="1.20" stroke="#555"/>
<rect x="519.2" y="249.6" width="49.7" height="9.5" rx="2.5" stroke-width="1.10" fill="#fff"/>
<rect x="529.8" y="252.0" width="30.3" height="10.3" rx="0" stroke-width="0.80" fill="#fff"/>
<line x1="522.0" y1="259.1" x2="522.0" y2="252.5" stroke-width="0.60"/>
<line x1="566.0" y1="259.1" x2="566.0" y2="252.5" stroke-width="0.60"/>
<line x1="525.5" y1="259.1" x2="525.5" y2="254.0" stroke-width="0.50"/>
<line x1="563.0" y1="259.1" x2="563.0" y2="254.0" stroke-width="0.50"/>
<line x1="519.2" y1="262.3" x2="569.5" y2="262.3" stroke-width="0.60"/>
<circle cx="532.2" cy="274.3" r="8.3" stroke-width="1.00" fill="#fff"/>
<circle cx="532.2" cy="274.3" r="7.0" stroke-width="0.50" fill="none"/>
<path d="M529.2,270.2 L535.9,276.6" stroke-width="2.60" fill="none" stroke-linecap="round"/>
<path d="M529.2,270.2 L535.9,276.6" stroke-width="1.40" fill="none" stroke-linecap="round" stroke="#fff"/>
<circle cx="556.9" cy="273.9" r="6.7" stroke-width="1.00" fill="#fff"/>
<circle cx="556.9" cy="273.9" r="4.0" stroke-width="0.80" fill="none"/>
<circle cx="556.9" cy="273.9" r="1.3" stroke-width="0.70" fill="none"/>
<line x1="540.5" y1="267.0" x2="548.0" y2="267.0" stroke-width="0.60"/>
<line x1="540.5" y1="267.0" x2="540.5" y2="272.7" stroke-width="0.60"/>
<line x1="548.0" y1="267.0" x2="548.0" y2="272.7" stroke-width="0.60"/>
<circle cx="492.3" cy="294.2" r="1.9" stroke-width="0.80" fill="none"/>
<line x1="490.4" y1="294.2" x2="494.2" y2="294.2" stroke-width="0.60"/>
<rect x="491.0" y="359.0" width="3.0" height="2.5" rx="0" stroke-width="0.70" fill="none"/>
<rect x="570.5" y="283.0" width="2.3" height="60.0" rx="0" stroke-width="0.70" fill="none"/>
<line x1="572.8" y1="291.0" x2="582.9" y2="291.0" stroke-width="0.70"/>
<line x1="572.8" y1="341.0" x2="582.9" y2="341.0" stroke-width="0.70"/>
<rect x="573.3" y="281.0" width="6.2" height="10.4" rx="0" stroke-width="1.00" fill="#fff"/>
<line x1="573.3" y1="284.2" x2="579.5" y2="284.2" stroke-width="0.60"/>
<line x1="573.3" y1="288.2" x2="579.5" y2="288.2" stroke-width="0.60"/>
<rect x="579.5" y="283.2" width="3.4" height="6.0" rx="0" stroke-width="0.70" fill="none"/>
<rect x="573.3" y="339.8" width="6.2" height="10.4" rx="0" stroke-width="1.00" fill="#fff"/>
<line x1="573.3" y1="343.0" x2="579.5" y2="343.0" stroke-width="0.60"/>
<line x1="573.3" y1="347.0" x2="579.5" y2="347.0" stroke-width="0.60"/>
<rect x="579.5" y="342.0" width="3.4" height="6.0" rx="0" stroke-width="0.70" fill="none"/>
<line x1="572.8" y1="281.0" x2="582.9" y2="279.0" stroke-width="0.60"/>
<line x1="572.8" y1="350.0" x2="582.9" y2="352.0" stroke-width="0.60"/>
<rect x="582.9" y="265.5" width="9.9" height="100.5" rx="2" stroke-width="1.10" fill="#fff"/>
<line x1="586.3" y1="266.0" x2="586.3" y2="365.5" stroke-width="0.50"/>
<path d="M592.8,266.5 Q595.5,281 600.8,292.6" stroke-width="0.80" fill="none" />
<path d="M592.8,269.5 L600.8,295" stroke-width="0.50" fill="none" />
<path d="M592.8,365 Q595.5,351 600.8,339" stroke-width="0.80" fill="none" />
<path d="M592.8,362 L600.8,337" stroke-width="0.50" fill="none" />
<line x1="592.8" y1="309.0" x2="600.8" y2="309.0" stroke-width="0.60"/>
<line x1="592.8" y1="322.0" x2="600.8" y2="322.0" stroke-width="0.60"/>
<line x1="430.0" y1="315.7" x2="600.8" y2="315.7" stroke-width="0.50"/>
<line x1="451.8" y1="201.5" x2="451.8" y2="280.5" stroke-width="0.70"/>
<line x1="586.3" y1="201.5" x2="586.3" y2="265.5" stroke-width="0.70"/>
<line x1="451.8" y1="205.8" x2="586.3" y2="205.8" stroke-width="0.70"/>
<polygon points="451.8,205.8 461.3,204.4 461.3,207.2" fill="#111" stroke="none"/>
<polygon points="586.3,205.8 576.8,207.2 576.8,204.4" fill="#111" stroke="none"/>
<line x1="586.3" y1="205.8" x2="637.1" y2="205.8" stroke-width="0.70"/>
<polygon points="586.3,205.8 595.8,204.4 595.8,207.2" fill="#111" stroke="none"/>
<polygon points="637.1,205.8 627.6,207.2 627.6,204.4" fill="#111" stroke="none"/>
<text transform="translate(518.9,197.6) scale(0.85,1)" font-family="Liberation Serif" font-size="14.5" font-weight="normal" fill="#222" stroke="#222" stroke-width="0.25" text-anchor="middle" dominant-baseline="central">X</text>
<text transform="translate(611.3,197.6) scale(0.85,1)" font-family="Liberation Serif" font-size="14.5" font-weight="normal" fill="#222" stroke="#222" stroke-width="0.25" text-anchor="middle" dominant-baseline="central">I</text>
<line x1="600.2" y1="234.5" x2="600.2" y2="251.0" stroke-width="0.70"/>
<line x1="672.7" y1="234.5" x2="672.7" y2="251.0" stroke-width="0.70"/>
<line x1="600.2" y1="238.6" x2="672.7" y2="238.6" stroke-width="0.70"/>
<polygon points="600.2,238.6 609.7,237.2 609.7,240.0" fill="#111" stroke="none"/>
<polygon points="672.7,238.6 663.2,240.0 663.2,237.2" fill="#111" stroke="none"/>
<text transform="translate(636.4,230.2) scale(0.85,1)" font-family="Liberation Serif" font-size="14.5" font-weight="normal" fill="#222" stroke="#222" stroke-width="0.25" text-anchor="middle" dominant-baseline="central">A1</text>
<line x1="429.5" y1="272.3" x2="462.0" y2="272.3" stroke-width="0.70"/>
<line x1="429.5" y1="358.6" x2="462.4" y2="358.6" stroke-width="0.70"/>
<line x1="433.8" y1="272.3" x2="433.8" y2="358.6" stroke-width="0.70"/>
<polygon points="433.8,272.3 435.2,281.8 432.4,281.8" fill="#111" stroke="none"/>
<polygon points="433.8,358.6 432.4,349.1 435.2,349.1" fill="#111" stroke="none"/>
<text transform="translate(424.6,315.0) rotate(-90) scale(0.85,1)" font-family="Liberation Serif" font-size="14.5" font-weight="normal" fill="#222" stroke="#222" stroke-width="0.25" text-anchor="middle" dominant-baseline="central">Y</text>
<line x1="672.7" y1="287.5" x2="716.5" y2="287.5" stroke-width="0.70"/>
<line x1="700.0" y1="331.1" x2="716.5" y2="331.1" stroke-width="0.70"/>
<line x1="713.7" y1="287.5" x2="713.7" y2="331.1" stroke-width="0.70"/>
<polygon points="713.7,287.5 715.2,297.0 712.2,297.0" fill="#111" stroke="none"/>
<polygon points="713.7,331.1 712.2,321.6 715.2,321.6" fill="#111" stroke="none"/>
<text transform="translate(704.4,308.7) rotate(-90) scale(0.85,1)" font-family="Liberation Serif" font-size="14.5" font-weight="normal" fill="#222" stroke="#222" stroke-width="0.25" text-anchor="middle" dominant-baseline="central">O</text>
<line x1="678.0" y1="303.7" x2="698.7" y2="303.7" stroke-width="0.70"/>
<line x1="678.2" y1="359.8" x2="698.7" y2="359.8" stroke-width="0.70"/>
<line x1="695.0" y1="303.7" x2="695.0" y2="359.8" stroke-width="0.70"/>
<polygon points="695.0,303.7 696.5,313.2 693.5,313.2" fill="#111" stroke="none"/>
<polygon points="695.0,359.8 693.5,350.3 696.5,350.3" fill="#111" stroke="none"/>
<text transform="translate(686.2,331.0) rotate(-90) scale(0.85,1)" font-family="Liberation Serif" font-size="14.5" font-weight="normal" fill="#222" stroke="#222" stroke-width="0.25" text-anchor="middle" dominant-baseline="central">E</text>
<line x1="598.7" y1="366.0" x2="598.7" y2="487.0" stroke-width="0.70"/>
<line x1="601.2" y1="366.0" x2="601.2" y2="487.0" stroke-width="0.70"/>
<line x1="674.7" y1="381.0" x2="674.7" y2="487.0" stroke-width="0.70"/>
<line x1="676.7" y1="381.0" x2="676.7" y2="487.0" stroke-width="0.70"/>
<line x1="679.0" y1="381.0" x2="679.0" y2="487.0" stroke-width="0.70"/>
<line x1="613.6" y1="382.0" x2="613.6" y2="405.0" stroke-width="0.70"/>
<line x1="662.8" y1="382.0" x2="662.8" y2="405.0" stroke-width="0.70"/>
<line x1="607.4" y1="384.0" x2="607.4" y2="424.0" stroke-width="0.70"/>
<line x1="669.0" y1="384.0" x2="669.0" y2="424.0" stroke-width="0.70"/>
<line x1="613.6" y1="401.9" x2="662.8" y2="401.9" stroke-width="0.70"/>
<polygon points="613.6,401.9 623.1,400.4 623.1,403.3" fill="#111" stroke="none"/>
<polygon points="662.8,401.9 653.3,403.3 653.3,400.4" fill="#111" stroke="none"/>
<text transform="translate(637.8,393.8) scale(0.85,1)" font-family="Liberation Serif" font-size="14.5" font-weight="normal" fill="#222" stroke="#222" stroke-width="0.25" text-anchor="middle" dominant-baseline="central">F</text>
<line x1="607.4" y1="420.6" x2="669.0" y2="420.6" stroke-width="0.70"/>
<polygon points="607.4,420.6 616.9,419.2 616.9,422.1" fill="#111" stroke="none"/>
<polygon points="669.0,420.6 659.5,422.1 659.5,419.2" fill="#111" stroke="none"/>
<text transform="translate(637.8,412.5) scale(0.85,1)" font-family="Liberation Serif" font-size="14.5" font-weight="normal" fill="#222" stroke="#222" stroke-width="0.25" text-anchor="middle" dominant-baseline="central">C1</text>
<line x1="601.2" y1="441.1" x2="674.7" y2="441.1" stroke-width="0.70"/>
<polygon points="601.2,441.1 610.7,439.7 610.7,442.6" fill="#111" stroke="none"/>
<polygon points="674.7,441.1 665.2,442.6 665.2,439.7" fill="#111" stroke="none"/>
<text transform="translate(638.6,433.0) scale(0.85,1)" font-family="Liberation Serif" font-size="14.5" font-weight="normal" fill="#222" stroke="#222" stroke-width="0.25" text-anchor="middle" dominant-baseline="central">G</text>
<line x1="599.4" y1="461.3" x2="638.6" y2="461.3" stroke-width="0.70"/>
<polygon points="599.4,461.3 608.9,459.9 608.9,462.8" fill="#111" stroke="none"/>
<polygon points="638.6,461.3 629.1,462.8 629.1,459.9" fill="#111" stroke="none"/>
<line x1="638.6" y1="461.3" x2="676.7" y2="461.3" stroke-width="0.70"/>
<polygon points="638.6,461.3 648.1,459.9 648.1,462.8" fill="#111" stroke="none"/>
<polygon points="676.7,461.3 667.2,462.8 667.2,459.9" fill="#111" stroke="none"/>
<line x1="638.6" y1="448.0" x2="638.6" y2="464.5" stroke-width="0.70"/>
<text transform="translate(619.9,453.6) scale(0.85,1)" font-family="Liberation Serif" font-size="14.5" font-weight="normal" fill="#222" stroke="#222" stroke-width="0.25" text-anchor="middle" dominant-baseline="central">H1</text>
<text transform="translate(657.3,453.6) scale(0.85,1)" font-family="Liberation Serif" font-size="14.5" font-weight="normal" fill="#222" stroke="#222" stroke-width="0.25" text-anchor="middle" dominant-baseline="central">H1</text>
<line x1="598.7" y1="484.2" x2="679.0" y2="484.2" stroke-width="0.70"/>
<polygon points="598.7,484.2 608.2,482.8 608.2,485.6" fill="#111" stroke="none"/>
<polygon points="679.0,484.2 669.5,485.6 669.5,482.8" fill="#111" stroke="none"/>
<text transform="translate(637.8,476.8) scale(0.85,1)" font-family="Liberation Serif" font-size="14.5" font-weight="normal" fill="#222" stroke="#222" stroke-width="0.25" text-anchor="middle" dominant-baseline="central">L1</text>
<defs><clipPath id="hc"><path d="M397.3,424.5 L417.4,424.5 L417.4,422.4 L429.4,422.4 L429.4,419.7 L445.3,417.9 L445.3,422.4 L457.5,422.4 L457.5,424.5 L477.7,424.5 L477.7,429.8 L397.3,429.8 Z M397.3,456.3 L417.4,456.3 L417.4,458.7 L429.4,458.7 L429.4,462 L445.6,463.6 L445.6,458.7 L457.5,458.7 L457.5,456.3 L477.7,456.3 L477.7,449.6 L452.4,449.6 L452.4,453.1 L422.9,453.1 L422.9,449.6 L397.3,449.6 Z"/></clipPath></defs>
<g clip-path="url(#hc)" stroke="#222" stroke-width="0.8">
<line x1="320.0" y1="470" x2="380.0" y2="410"/>
<line x1="322.7" y1="470" x2="382.7" y2="410"/>
<line x1="325.4" y1="470" x2="385.4" y2="410"/>
<line x1="328.1" y1="470" x2="388.1" y2="410"/>
<line x1="330.8" y1="470" x2="390.8" y2="410"/>
<line x1="333.5" y1="470" x2="393.5" y2="410"/>
<line x1="336.2" y1="470" x2="396.2" y2="410"/>
<line x1="338.9" y1="470" x2="398.9" y2="410"/>
<line x1="341.6" y1="470" x2="401.6" y2="410"/>
<line x1="344.3" y1="470" x2="404.3" y2="410"/>
<line x1="347.0" y1="470" x2="407.0" y2="410"/>
<line x1="349.7" y1="470" x2="409.7" y2="410"/>
<line x1="352.4" y1="470" x2="412.4" y2="410"/>
<line x1="355.1" y1="470" x2="415.1" y2="410"/>
<line x1="357.8" y1="470" x2="417.8" y2="410"/>
<line x1="360.5" y1="470" x2="420.5" y2="410"/>
<line x1="363.2" y1="470" x2="423.2" y2="410"/>
<line x1="365.9" y1="470" x2="425.9" y2="410"/>
<line x1="368.6" y1="470" x2="428.6" y2="410"/>
<line x1="371.3" y1="470" x2="431.3" y2="410"/>
<line x1="374.0" y1="470" x2="434.0" y2="410"/>
<line x1="376.7" y1="470" x2="436.7" y2="410"/>
<line x1="379.4" y1="470" x2="439.4" y2="410"/>
<line x1="382.1" y1="470" x2="442.1" y2="410"/>
<line x1="384.8" y1="470" x2="444.8" y2="410"/>
<line x1="387.5" y1="470" x2="447.5" y2="410"/>
<line x1="390.2" y1="470" x2="450.2" y2="410"/>
<line x1="392.9" y1="470" x2="452.9" y2="410"/>
<line x1="395.6" y1="470" x2="455.6" y2="410"/>
<line x1="398.3" y1="470" x2="458.3" y2="410"/>
<line x1="401.0" y1="470" x2="461.0" y2="410"/>
<line x1="403.7" y1="470" x2="463.7" y2="410"/>
<line x1="406.4" y1="470" x2="466.4" y2="410"/>
<line x1="409.1" y1="470" x2="469.1" y2="410"/>
<line x1="411.8" y1="470" x2="471.8" y2="410"/>
<line x1="414.5" y1="470" x2="474.5" y2="410"/>
<line x1="417.2" y1="470" x2="477.2" y2="410"/>
<line x1="419.9" y1="470" x2="479.9" y2="410"/>
<line x1="422.6" y1="470" x2="482.6" y2="410"/>
<line x1="425.3" y1="470" x2="485.3" y2="410"/>
<line x1="428.0" y1="470" x2="488.0" y2="410"/>
<line x1="430.7" y1="470" x2="490.7" y2="410"/>
<line x1="433.4" y1="470" x2="493.4" y2="410"/>
<line x1="436.1" y1="470" x2="496.1" y2="410"/>
<line x1="438.8" y1="470" x2="498.8" y2="410"/>
<line x1="441.5" y1="470" x2="501.5" y2="410"/>
<line x1="444.2" y1="470" x2="504.2" y2="410"/>
<line x1="446.9" y1="470" x2="506.9" y2="410"/>
<line x1="449.6" y1="470" x2="509.6" y2="410"/>
<line x1="452.3" y1="470" x2="512.3" y2="410"/>
<line x1="455.0" y1="470" x2="515.0" y2="410"/>
<line x1="457.7" y1="470" x2="517.7" y2="410"/>
<line x1="460.4" y1="470" x2="520.4" y2="410"/>
<line x1="463.1" y1="470" x2="523.1" y2="410"/>
<line x1="465.8" y1="470" x2="525.8" y2="410"/>
<line x1="468.5" y1="470" x2="528.5" y2="410"/>
<line x1="471.2" y1="470" x2="531.2" y2="410"/>
<line x1="473.9" y1="470" x2="533.9" y2="410"/>
<line x1="476.6" y1="470" x2="536.6" y2="410"/>
<line x1="479.3" y1="470" x2="539.3" y2="410"/>
<line x1="482.0" y1="470" x2="542.0" y2="410"/>
<line x1="484.7" y1="470" x2="544.7" y2="410"/>
<line x1="487.4" y1="470" x2="547.4" y2="410"/>
<line x1="490.1" y1="470" x2="550.1" y2="410"/>
<line x1="492.8" y1="470" x2="552.8" y2="410"/>
<line x1="495.5" y1="470" x2="555.5" y2="410"/>
<line x1="498.2" y1="470" x2="558.2" y2="410"/>
</g>
<path d="M397.3,424.5 L417.4,424.5 L417.4,422.4 L429.4,422.4 L429.4,419.7 L445.3,417.9 L445.3,422.4 L457.5,422.4 L457.5,424.5 L477.7,424.5 L477.7,429.8 L397.3,429.8 Z" stroke-width="0.70" fill="none" />
<path d="M397.3,456.3 L417.4,456.3 L417.4,458.7 L429.4,458.7 L429.4,462 L445.6,463.6 L445.6,458.7 L457.5,458.7 L457.5,456.3 L477.7,456.3 L477.7,449.6 L452.4,449.6 L452.4,453.1 L422.9,453.1 L422.9,449.6 L397.3,449.6 Z" stroke-width="0.70" fill="none" />
<line x1="397.3" y1="424.5" x2="397.3" y2="456.3" stroke-width="0.90"/>
<line x1="477.7" y1="424.5" x2="477.7" y2="456.3" stroke-width="0.90"/>
<line x1="422.9" y1="429.8" x2="422.9" y2="453.1" stroke-width="0.80"/>
<line x1="452.4" y1="429.8" x2="452.4" y2="453.1" stroke-width="0.80"/>
<line x1="392.0" y1="439.8" x2="484.0" y2="439.8" stroke-width="0.50"/>
<line x1="437.4" y1="414.0" x2="437.4" y2="467.0" stroke-width="0.50"/>
<line x1="397.2" y1="406.0" x2="397.2" y2="424.7" stroke-width="0.70"/>
<line x1="422.9" y1="406.0" x2="422.9" y2="424.7" stroke-width="0.70"/>
<line x1="450.9" y1="406.0" x2="450.9" y2="424.7" stroke-width="0.70"/>
<line x1="478.2" y1="406.0" x2="478.2" y2="424.7" stroke-width="0.70"/>
<line x1="397.2" y1="410.0" x2="422.9" y2="410.0" stroke-width="0.70"/>
<polygon points="397.2,410.0 406.7,408.6 406.7,411.4" fill="#111" stroke="none"/>
<polygon points="422.9,410.0 413.4,411.4 413.4,408.6" fill="#111" stroke="none"/>
<line x1="450.9" y1="410.0" x2="478.2" y2="410.0" stroke-width="0.70"/>
<polygon points="450.9,410.0 460.4,408.6 460.4,411.4" fill="#111" stroke="none"/>
<polygon points="478.2,410.0 468.7,411.4 468.7,408.6" fill="#111" stroke="none"/>
<text transform="translate(409.3,402.1) scale(0.85,1)" font-family="Liberation Serif" font-size="14.5" font-weight="normal" fill="#222" stroke="#222" stroke-width="0.25" text-anchor="middle" dominant-baseline="central">S</text>
<text transform="translate(464.7,402.1) scale(0.85,1)" font-family="Liberation Serif" font-size="14.5" font-weight="normal" fill="#222" stroke="#222" stroke-width="0.25" text-anchor="middle" dominant-baseline="central">S</text>
<line x1="397.2" y1="455.9" x2="397.2" y2="488.5" stroke-width="0.70"/>
<line x1="478.2" y1="455.9" x2="478.2" y2="488.5" stroke-width="0.70"/>
<line x1="397.2" y1="485.4" x2="478.2" y2="485.4" stroke-width="0.70"/>
<polygon points="397.2,485.4 406.7,483.9 406.7,486.8" fill="#111" stroke="none"/>
<polygon points="478.2,485.4 468.7,486.8 468.7,483.9" fill="#111" stroke="none"/>
<text transform="translate(438.0,477.8) scale(0.85,1)" font-family="Liberation Serif" font-size="14.5" font-weight="normal" fill="#222" stroke="#222" stroke-width="0.25" text-anchor="middle" dominant-baseline="central">L1</text>
<line x1="373.5" y1="430.6" x2="397.2" y2="430.6" stroke-width="0.70"/>
<line x1="373.5" y1="449.4" x2="397.2" y2="449.4" stroke-width="0.70"/>
<line x1="377.0" y1="415.7" x2="377.0" y2="430.6" stroke-width="0.70"/>
<polygon points="377.0,430.6 375.6,421.1 378.4,421.1" fill="#111" stroke="none"/>
<line x1="377.0" y1="449.4" x2="377.0" y2="465.5" stroke-width="0.70"/>
<polygon points="377.0,449.4 378.4,458.9 375.6,458.9" fill="#111" stroke="none"/>
<text transform="translate(368.3,440.4) rotate(-90) scale(0.85,1)" font-family="Liberation Serif" font-size="14.5" font-weight="normal" fill="#222" stroke="#222" stroke-width="0.25" text-anchor="middle" dominant-baseline="central">D</text>
<path d="M541.1,431.6 L541.1,428.8 L546.9,428.8 L546.9,431.6 A9.6,9.6 0 1 1 541.1,431.6" stroke-width="1.10" fill="none" />
<line x1="530.0" y1="440.8" x2="558.0" y2="440.8" stroke-width="0.50"/>
<line x1="544.0" y1="426.5" x2="544.0" y2="453.0" stroke-width="0.50"/>
<line x1="541.1" y1="402.9" x2="541.1" y2="431.8" stroke-width="0.70"/>
<line x1="546.9" y1="402.9" x2="546.9" y2="431.8" stroke-width="0.70"/>
<line x1="523.2" y1="405.1" x2="577.8" y2="405.1" stroke-width="0.70"/>
<polygon points="541.1,405.1 531.6,406.6 531.6,403.7" fill="#111" stroke="none"/>
<polygon points="546.9,405.1 556.4,403.7 556.4,406.6" fill="#111" stroke="none"/>
<text transform="translate(569.8,398.3) scale(0.85,1)" font-family="Liberation Serif" font-size="14.5" font-weight="normal" fill="#222" stroke="#222" stroke-width="0.25" text-anchor="middle" dominant-baseline="central">b</text>
<line x1="513.5" y1="429.2" x2="546.9" y2="429.2" stroke-width="0.70"/>
<line x1="513.5" y1="449.8" x2="540.0" y2="449.8" stroke-width="0.70"/>
<line x1="516.4" y1="412.5" x2="516.4" y2="429.2" stroke-width="0.70"/>
<polygon points="516.4,429.2 514.9,419.7 517.9,419.7" fill="#111" stroke="none"/>
<line x1="516.4" y1="449.8" x2="516.4" y2="465.5" stroke-width="0.70"/>
<polygon points="516.4,449.8 517.9,459.3 514.9,459.3" fill="#111" stroke="none"/>
<text transform="translate(510.2,439.8) rotate(-90) scale(0.85,1)" font-family="Liberation Serif" font-size="14.5" font-weight="normal" fill="#222" stroke="#222" stroke-width="0.25" text-anchor="middle" dominant-baseline="central">t</text>
</svg>
</body></html>
